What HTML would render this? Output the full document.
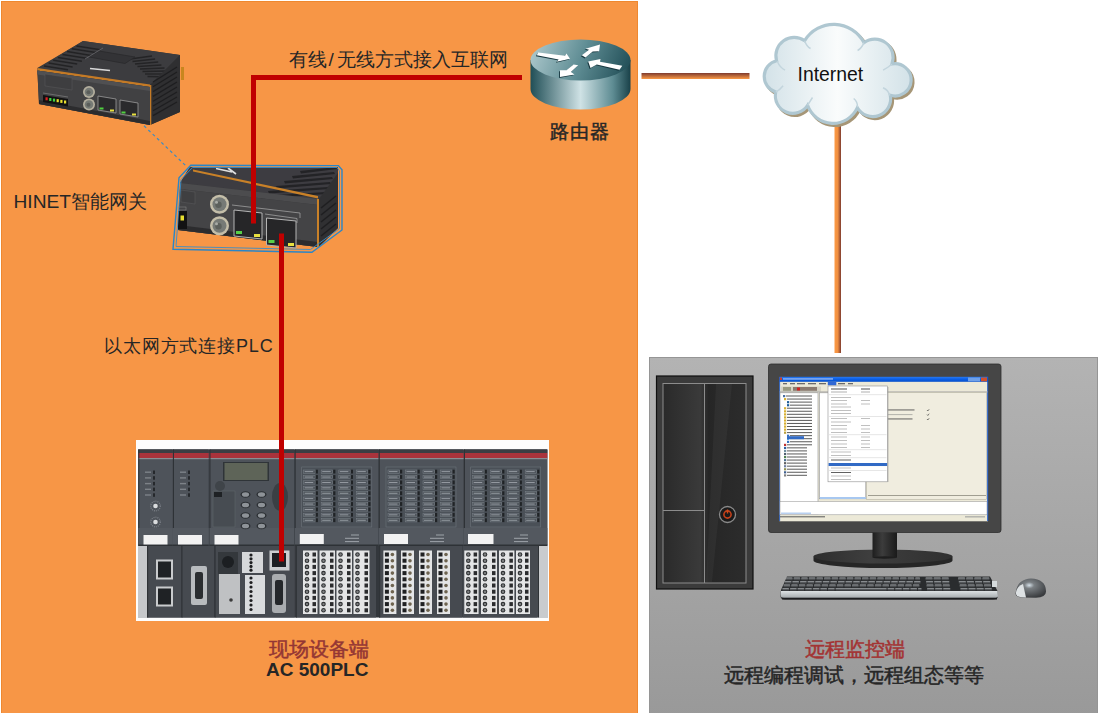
<!DOCTYPE html>
<html><head><meta charset="utf-8">
<style>
html,body{margin:0;padding:0;background:#fff;width:1100px;height:713px;overflow:hidden;}
body{position:relative;font-family:"Liberation Sans",sans-serif;}
.abs{position:absolute;}
#orange{left:1px;top:1px;width:635px;height:720px;background:#F79646;border:1px solid #EE8830;}
#gray{left:649px;top:357px;width:447px;height:360px;border:1px solid #959595;background:linear-gradient(#B3B3B3,#999999);}
.t{position:absolute;white-space:nowrap;line-height:1;}
svg{position:absolute;left:0;top:0;}
</style></head><body>
<div id="orange" class="abs"></div>
<div id="gray" class="abs"></div>
<svg width="1100" height="713" viewBox="0 0 1100 713">
<defs>
<linearGradient id="hl" x1="0" y1="0" x2="0" y2="1"><stop offset="0" stop-color="#7E3A2E"/><stop offset="1" stop-color="#FC9A45"/></linearGradient>
<linearGradient id="vl" x1="0" y1="0" x2="1" y2="0"><stop offset="0" stop-color="#FC9A45"/><stop offset="0.5" stop-color="#F08F40"/><stop offset="1" stop-color="#7E3A2E"/></linearGradient>
</defs>
<rect x="641.5" y="73" width="108" height="6" fill="url(#hl)"/>
<rect x="834.5" y="125" width="6.5" height="228" fill="url(#vl)"/>
<g id="router">
<defs>
<linearGradient id="rside" x1="530" y1="0" x2="631" y2="0" gradientUnits="userSpaceOnUse">
<stop offset="0" stop-color="#1E4D55"/><stop offset="0.5" stop-color="#CFE2E5"/><stop offset="0.82" stop-color="#5E8C93"/><stop offset="1" stop-color="#173F47"/></linearGradient>
<linearGradient id="rtop" x1="530" y1="40" x2="631" y2="80" gradientUnits="userSpaceOnUse">
<stop offset="0" stop-color="#B3CDD1"/><stop offset="0.5" stop-color="#5F8D94"/><stop offset="1" stop-color="#1A4750"/></linearGradient>
</defs>
<path d="M530.5 60 V89 A50 20.5 0 0 0 630.5 89 V60 Z" fill="url(#rside)"/>
<ellipse cx="580.5" cy="60" rx="50" ry="20.5" fill="url(#rtop)"/>
<g fill="#183840" transform="translate(-0.9,0.9)"><polygon points="538.2,52.5 565,55.7 566.4,53.5 570,58.7 556.8,61.8 558.6,59.4 536.8,55.3"/><polygon points="600,44.5 599.1,51.2 592.7,51.6 585.5,57.5 581.8,55.3 589,49.8 585.5,48.7"/><polygon points="588.2,61.5 600.5,59.1 600,61.8 622.3,65.7 619.5,69.8 596.8,64.4 590.5,68"/><polygon points="560,77.1 560,70.3 566.4,70.3 573.6,64.4 578.2,65.3 570.9,72.1 574.5,74.4"/></g>
<g fill="#FFFFFF"><polygon points="538.2,52.5 565,55.7 566.4,53.5 570,58.7 556.8,61.8 558.6,59.4 536.8,55.3"/><polygon points="600,44.5 599.1,51.2 592.7,51.6 585.5,57.5 581.8,55.3 589,49.8 585.5,48.7"/><polygon points="588.2,61.5 600.5,59.1 600,61.8 622.3,65.7 619.5,69.8 596.8,64.4 590.5,68"/><polygon points="560,77.1 560,70.3 566.4,70.3 573.6,64.4 578.2,65.3 570.9,72.1 574.5,74.4"/></g>
</g>

<g id="cloud" transform="translate(837.5,74) scale(0.98) translate(-837.5,-74)">
<defs>
<linearGradient id="cfill" x1="763" y1="0" x2="912" y2="0" gradientUnits="userSpaceOnUse">
<stop offset="0" stop-color="#D3E2E8"/><stop offset="0.5" stop-color="#FAFCFC"/><stop offset="1" stop-color="#D3E2E8"/></linearGradient>
</defs>
<path d="M775.3 60.4 A18.7 18.7 0 0 1 804 40 A34.8 34.8 0 0 1 864.5 42 A18.7 18.7 0 0 1 893 63.8 A16.5 16.5 0 1 1 891.4 95.8 A18.2 18.2 0 0 1 857.8 108.4 A27.4 27.4 0 0 1 807 106 A17.9 17.9 0 0 1 774.5 92.4 A16.6 16.6 0 0 1 775.3 60.4 Z" fill="#A69677" stroke="#A69677" stroke-width="3" transform="translate(2,2.2)"/>
<path d="M775.3 60.4 A18.7 18.7 0 0 1 804 40 A34.8 34.8 0 0 1 864.5 42 A18.7 18.7 0 0 1 893 63.8 A16.5 16.5 0 1 1 891.4 95.8 A18.2 18.2 0 0 1 857.8 108.4 A27.4 27.4 0 0 1 807 106 A17.9 17.9 0 0 1 774.5 92.4 A16.6 16.6 0 0 1 775.3 60.4 Z" fill="url(#cfill)" stroke="#AFC7D1" stroke-width="3.2"/>
<g fill="none" stroke="#C3D5DD" stroke-width="1.5">
<path d="M776 61 Q779 68 784 70"/><path d="M804 40 Q806 46 810 48"/><path d="M864.5 42 Q862 48 858 50"/><path d="M893 64 Q888 68 884 70"/>
<path d="M891 96 Q889 90 884 88"/><path d="M858 108 Q858 102 854 99"/><path d="M807 106 Q810 101 812 98"/><path d="M774.5 92.4 Q779 90 782 86"/>
</g>
</g>

<g id="plc">
<rect x="136" y="440" width="413" height="181" fill="#FDFDFD"/>
<rect x="138.3" y="449.5" width="409" height="168" fill="#33373C"/>
<rect x="138" y="545" width="10" height="73" fill="#C6C8CB"/>
<rect x="537" y="545" width="11" height="73" fill="#C9CBCE"/>
<rect x="138.3" y="449.5" width="34.5" height="96" fill="#4E535A"/>
<rect x="138.3" y="449.5" width="34.5" height="3.5" fill="#3A3E44"/>
<rect x="138.3" y="453" width="34.5" height="5" fill="#A9333C"/>
<rect x="138.3" y="458" width="34.5" height="1.2" fill="#8A8E94"/>
<rect x="138.3" y="449.5" width="1" height="96" fill="#2E3236"/>
<rect x="138.3" y="528" width="34.5" height="17.5" fill="#53585F"/>
<rect x="138.3" y="544.5" width="34.5" height="1.5" fill="#2E3236"/>
<rect x="173" y="449.5" width="35.7" height="96" fill="#4E535A"/>
<rect x="173" y="449.5" width="35.7" height="3.5" fill="#3A3E44"/>
<rect x="173" y="453" width="35.7" height="5" fill="#A9333C"/>
<rect x="173" y="458" width="35.7" height="1.2" fill="#8A8E94"/>
<rect x="173" y="449.5" width="1" height="96" fill="#2E3236"/>
<rect x="173" y="528" width="35.7" height="17.5" fill="#53585F"/>
<rect x="173" y="544.5" width="35.7" height="1.5" fill="#2E3236"/>
<rect x="209.5" y="449.5" width="84.7" height="96" fill="#4E535A"/>
<rect x="209.5" y="449.5" width="84.7" height="3.5" fill="#3A3E44"/>
<rect x="209.5" y="453" width="84.7" height="5" fill="#A9333C"/>
<rect x="209.5" y="458" width="84.7" height="1.2" fill="#8A8E94"/>
<rect x="209.5" y="449.5" width="1" height="96" fill="#2E3236"/>
<rect x="209.5" y="528" width="84.7" height="17.5" fill="#53585F"/>
<rect x="209.5" y="544.5" width="84.7" height="1.5" fill="#2E3236"/>
<rect x="294.7" y="449.5" width="83.8" height="96" fill="#4E535A"/>
<rect x="294.7" y="449.5" width="83.8" height="3.5" fill="#3A3E44"/>
<rect x="294.7" y="453" width="83.8" height="5" fill="#A9333C"/>
<rect x="294.7" y="458" width="83.8" height="1.2" fill="#8A8E94"/>
<rect x="294.7" y="449.5" width="1" height="96" fill="#2E3236"/>
<rect x="294.7" y="528" width="83.8" height="17.5" fill="#53585F"/>
<rect x="294.7" y="544.5" width="83.8" height="1.5" fill="#2E3236"/>
<rect x="378.8" y="449.5" width="84.8" height="96" fill="#4E535A"/>
<rect x="378.8" y="449.5" width="84.8" height="3.5" fill="#3A3E44"/>
<rect x="378.8" y="453" width="84.8" height="5" fill="#A9333C"/>
<rect x="378.8" y="458" width="84.8" height="1.2" fill="#8A8E94"/>
<rect x="378.8" y="449.5" width="1" height="96" fill="#2E3236"/>
<rect x="378.8" y="528" width="84.8" height="17.5" fill="#53585F"/>
<rect x="378.8" y="544.5" width="84.8" height="1.5" fill="#2E3236"/>
<rect x="464" y="449.5" width="83.3" height="96" fill="#4E535A"/>
<rect x="464" y="449.5" width="83.3" height="3.5" fill="#3A3E44"/>
<rect x="464" y="453" width="83.3" height="5" fill="#A9333C"/>
<rect x="464" y="458" width="83.3" height="1.2" fill="#8A8E94"/>
<rect x="464" y="449.5" width="1" height="96" fill="#2E3236"/>
<rect x="464" y="528" width="83.3" height="17.5" fill="#53585F"/>
<rect x="464" y="544.5" width="83.3" height="1.5" fill="#2E3236"/>
<rect x="143.5" y="535" width="24" height="9.5" fill="#F2F2F2"/>
<rect x="178" y="535" width="24" height="9.5" fill="#F2F2F2"/>
<rect x="214.5" y="535" width="24" height="9.5" fill="#F2F2F2"/>
<rect x="299.8" y="534" width="24" height="10" fill="#F2F2F2"/>
<rect x="384" y="534" width="24" height="10" fill="#F2F2F2"/>
<rect x="468" y="534" width="25.5" height="10" fill="#F2F2F2"/>
<rect x="145" y="471.5" width="6" height="1.4" fill="#7D8288"/>
<rect x="153" y="470.5" width="2" height="3.5" fill="#25282C"/>
<rect x="145" y="477.2" width="6" height="1.4" fill="#7D8288"/>
<rect x="153" y="476.2" width="2" height="3.5" fill="#25282C"/>
<rect x="145" y="482.9" width="6" height="1.4" fill="#7D8288"/>
<rect x="153" y="481.9" width="2" height="3.5" fill="#25282C"/>
<rect x="145" y="488.6" width="6" height="1.4" fill="#7D8288"/>
<rect x="153" y="487.6" width="2" height="3.5" fill="#25282C"/>
<rect x="145" y="494.3" width="6" height="1.4" fill="#7D8288"/>
<rect x="153" y="493.3" width="2" height="3.5" fill="#25282C"/>
<rect x="180" y="471.5" width="6" height="1.4" fill="#7D8288"/>
<rect x="188" y="470.5" width="2" height="3.5" fill="#25282C"/>
<rect x="180" y="477.2" width="6" height="1.4" fill="#7D8288"/>
<rect x="188" y="476.2" width="2" height="3.5" fill="#25282C"/>
<rect x="180" y="482.9" width="6" height="1.4" fill="#7D8288"/>
<rect x="188" y="481.9" width="2" height="3.5" fill="#25282C"/>
<rect x="180" y="488.6" width="6" height="1.4" fill="#7D8288"/>
<rect x="188" y="487.6" width="2" height="3.5" fill="#25282C"/>
<rect x="180" y="494.3" width="6" height="1.4" fill="#7D8288"/>
<rect x="188" y="493.3" width="2" height="3.5" fill="#25282C"/>
<circle cx="155.5" cy="506" r="4.8" fill="none" stroke="#7A7F86" stroke-width="1.3" stroke-dasharray="1 1"/>
<circle cx="155.5" cy="506" r="2.3" fill="#DADCDE"/>
<circle cx="155.5" cy="522" r="4.8" fill="none" stroke="#7A7F86" stroke-width="1.3" stroke-dasharray="1 1"/>
<circle cx="155.5" cy="522" r="2.3" fill="#DADCDE"/>
<rect x="223" y="462" width="46" height="19" fill="#2F3438"/>
<rect x="224.5" y="463" width="43" height="17" fill="#5E6458"/>
<ellipse cx="245.5" cy="494.5" rx="5" ry="3.3" fill="#2C3034"/>
<ellipse cx="245.5" cy="494.5" rx="3.6" ry="2.3" fill="#8E9398"/>
<ellipse cx="261.5" cy="494.5" rx="5" ry="3.3" fill="#2C3034"/>
<ellipse cx="261.5" cy="494.5" rx="3.6" ry="2.3" fill="#8E9398"/>
<ellipse cx="245.5" cy="505.0" rx="5" ry="3.3" fill="#2C3034"/>
<ellipse cx="245.5" cy="505.0" rx="3.6" ry="2.3" fill="#8E9398"/>
<ellipse cx="261.5" cy="505.0" rx="5" ry="3.3" fill="#2C3034"/>
<ellipse cx="261.5" cy="505.0" rx="3.6" ry="2.3" fill="#8E9398"/>
<ellipse cx="245.5" cy="515.5" rx="5" ry="3.3" fill="#2C3034"/>
<ellipse cx="245.5" cy="515.5" rx="3.6" ry="2.3" fill="#8E9398"/>
<ellipse cx="261.5" cy="515.5" rx="5" ry="3.3" fill="#2C3034"/>
<ellipse cx="261.5" cy="515.5" rx="3.6" ry="2.3" fill="#8E9398"/>
<ellipse cx="245.5" cy="526.0" rx="5" ry="3.3" fill="#2C3034"/>
<ellipse cx="245.5" cy="526.0" rx="3.6" ry="2.3" fill="#8E9398"/>
<ellipse cx="261.5" cy="526.0" rx="5" ry="3.3" fill="#2C3034"/>
<ellipse cx="261.5" cy="526.0" rx="3.6" ry="2.3" fill="#8E9398"/>
<rect x="213" y="491" width="22" height="36" fill="#474C52" stroke="#5F646A" stroke-width="0.6"/>
<rect x="214" y="492" width="8" height="5" fill="#1E2124"/>
<ellipse cx="280" cy="497" rx="8" ry="14" fill="#3A3F44"/>
<circle cx="220" cy="486" r="5" fill="#3F4449"/>
<rect x="301.7" y="467" width="70.1" height="60" fill="#4A5057" stroke="#6C737A" stroke-width="0.6"/>
<rect x="303.7" y="470.0" width="11.5" height="3.3" fill="#4F555C" stroke="#7C838A" stroke-width="0.5"/>
<rect x="315.7" y="469.7" width="2.2" height="3.8" fill="#202326"/>
<rect x="303.7" y="475.4" width="11.5" height="3.3" fill="#4F555C" stroke="#7C838A" stroke-width="0.5"/>
<rect x="315.7" y="475.1" width="2.2" height="3.8" fill="#202326"/>
<rect x="303.7" y="480.8" width="11.5" height="3.3" fill="#4F555C" stroke="#7C838A" stroke-width="0.5"/>
<rect x="315.7" y="480.5" width="2.2" height="3.8" fill="#202326"/>
<rect x="303.7" y="486.2" width="11.5" height="3.3" fill="#4F555C" stroke="#7C838A" stroke-width="0.5"/>
<rect x="315.7" y="485.9" width="2.2" height="3.8" fill="#202326"/>
<rect x="303.7" y="491.6" width="11.5" height="3.3" fill="#4F555C" stroke="#7C838A" stroke-width="0.5"/>
<rect x="315.7" y="491.3" width="2.2" height="3.8" fill="#202326"/>
<rect x="303.7" y="497.0" width="11.5" height="3.3" fill="#4F555C" stroke="#7C838A" stroke-width="0.5"/>
<rect x="315.7" y="496.7" width="2.2" height="3.8" fill="#202326"/>
<rect x="303.7" y="502.4" width="11.5" height="3.3" fill="#4F555C" stroke="#7C838A" stroke-width="0.5"/>
<rect x="315.7" y="502.1" width="2.2" height="3.8" fill="#202326"/>
<rect x="303.7" y="507.8" width="11.5" height="3.3" fill="#4F555C" stroke="#7C838A" stroke-width="0.5"/>
<rect x="315.7" y="507.5" width="2.2" height="3.8" fill="#202326"/>
<rect x="303.7" y="513.2" width="11.5" height="3.3" fill="#4F555C" stroke="#7C838A" stroke-width="0.5"/>
<rect x="315.7" y="512.9" width="2.2" height="3.8" fill="#202326"/>
<rect x="303.7" y="518.6" width="11.5" height="3.3" fill="#4F555C" stroke="#7C838A" stroke-width="0.5"/>
<rect x="315.7" y="518.3" width="2.2" height="3.8" fill="#202326"/>
<rect x="321.2" y="470.0" width="11.5" height="3.3" fill="#4F555C" stroke="#7C838A" stroke-width="0.5"/>
<rect x="333.2" y="469.7" width="2.2" height="3.8" fill="#202326"/>
<rect x="321.2" y="475.4" width="11.5" height="3.3" fill="#4F555C" stroke="#7C838A" stroke-width="0.5"/>
<rect x="333.2" y="475.1" width="2.2" height="3.8" fill="#202326"/>
<rect x="321.2" y="480.8" width="11.5" height="3.3" fill="#4F555C" stroke="#7C838A" stroke-width="0.5"/>
<rect x="333.2" y="480.5" width="2.2" height="3.8" fill="#202326"/>
<rect x="321.2" y="486.2" width="11.5" height="3.3" fill="#4F555C" stroke="#7C838A" stroke-width="0.5"/>
<rect x="333.2" y="485.9" width="2.2" height="3.8" fill="#202326"/>
<rect x="321.2" y="491.6" width="11.5" height="3.3" fill="#4F555C" stroke="#7C838A" stroke-width="0.5"/>
<rect x="333.2" y="491.3" width="2.2" height="3.8" fill="#202326"/>
<rect x="321.2" y="497.0" width="11.5" height="3.3" fill="#4F555C" stroke="#7C838A" stroke-width="0.5"/>
<rect x="333.2" y="496.7" width="2.2" height="3.8" fill="#202326"/>
<rect x="321.2" y="502.4" width="11.5" height="3.3" fill="#4F555C" stroke="#7C838A" stroke-width="0.5"/>
<rect x="333.2" y="502.1" width="2.2" height="3.8" fill="#202326"/>
<rect x="321.2" y="507.8" width="11.5" height="3.3" fill="#4F555C" stroke="#7C838A" stroke-width="0.5"/>
<rect x="333.2" y="507.5" width="2.2" height="3.8" fill="#202326"/>
<rect x="321.2" y="513.2" width="11.5" height="3.3" fill="#4F555C" stroke="#7C838A" stroke-width="0.5"/>
<rect x="333.2" y="512.9" width="2.2" height="3.8" fill="#202326"/>
<rect x="321.2" y="518.6" width="11.5" height="3.3" fill="#4F555C" stroke="#7C838A" stroke-width="0.5"/>
<rect x="333.2" y="518.3" width="2.2" height="3.8" fill="#202326"/>
<rect x="338.8" y="470.0" width="11.5" height="3.3" fill="#4F555C" stroke="#7C838A" stroke-width="0.5"/>
<rect x="350.8" y="469.7" width="2.2" height="3.8" fill="#202326"/>
<rect x="338.8" y="475.4" width="11.5" height="3.3" fill="#4F555C" stroke="#7C838A" stroke-width="0.5"/>
<rect x="350.8" y="475.1" width="2.2" height="3.8" fill="#202326"/>
<rect x="338.8" y="480.8" width="11.5" height="3.3" fill="#4F555C" stroke="#7C838A" stroke-width="0.5"/>
<rect x="350.8" y="480.5" width="2.2" height="3.8" fill="#202326"/>
<rect x="338.8" y="486.2" width="11.5" height="3.3" fill="#4F555C" stroke="#7C838A" stroke-width="0.5"/>
<rect x="350.8" y="485.9" width="2.2" height="3.8" fill="#202326"/>
<rect x="338.8" y="491.6" width="11.5" height="3.3" fill="#4F555C" stroke="#7C838A" stroke-width="0.5"/>
<rect x="350.8" y="491.3" width="2.2" height="3.8" fill="#202326"/>
<rect x="338.8" y="497.0" width="11.5" height="3.3" fill="#4F555C" stroke="#7C838A" stroke-width="0.5"/>
<rect x="350.8" y="496.7" width="2.2" height="3.8" fill="#202326"/>
<rect x="338.8" y="502.4" width="11.5" height="3.3" fill="#4F555C" stroke="#7C838A" stroke-width="0.5"/>
<rect x="350.8" y="502.1" width="2.2" height="3.8" fill="#202326"/>
<rect x="338.8" y="507.8" width="11.5" height="3.3" fill="#4F555C" stroke="#7C838A" stroke-width="0.5"/>
<rect x="350.8" y="507.5" width="2.2" height="3.8" fill="#202326"/>
<rect x="338.8" y="513.2" width="11.5" height="3.3" fill="#4F555C" stroke="#7C838A" stroke-width="0.5"/>
<rect x="350.8" y="512.9" width="2.2" height="3.8" fill="#202326"/>
<rect x="338.8" y="518.6" width="11.5" height="3.3" fill="#4F555C" stroke="#7C838A" stroke-width="0.5"/>
<rect x="350.8" y="518.3" width="2.2" height="3.8" fill="#202326"/>
<rect x="356.3" y="470.0" width="11.5" height="3.3" fill="#4F555C" stroke="#7C838A" stroke-width="0.5"/>
<rect x="368.3" y="469.7" width="2.2" height="3.8" fill="#202326"/>
<rect x="356.3" y="475.4" width="11.5" height="3.3" fill="#4F555C" stroke="#7C838A" stroke-width="0.5"/>
<rect x="368.3" y="475.1" width="2.2" height="3.8" fill="#202326"/>
<rect x="356.3" y="480.8" width="11.5" height="3.3" fill="#4F555C" stroke="#7C838A" stroke-width="0.5"/>
<rect x="368.3" y="480.5" width="2.2" height="3.8" fill="#202326"/>
<rect x="356.3" y="486.2" width="11.5" height="3.3" fill="#4F555C" stroke="#7C838A" stroke-width="0.5"/>
<rect x="368.3" y="485.9" width="2.2" height="3.8" fill="#202326"/>
<rect x="356.3" y="491.6" width="11.5" height="3.3" fill="#4F555C" stroke="#7C838A" stroke-width="0.5"/>
<rect x="368.3" y="491.3" width="2.2" height="3.8" fill="#202326"/>
<rect x="356.3" y="497.0" width="11.5" height="3.3" fill="#4F555C" stroke="#7C838A" stroke-width="0.5"/>
<rect x="368.3" y="496.7" width="2.2" height="3.8" fill="#202326"/>
<rect x="356.3" y="502.4" width="11.5" height="3.3" fill="#4F555C" stroke="#7C838A" stroke-width="0.5"/>
<rect x="368.3" y="502.1" width="2.2" height="3.8" fill="#202326"/>
<rect x="356.3" y="507.8" width="11.5" height="3.3" fill="#4F555C" stroke="#7C838A" stroke-width="0.5"/>
<rect x="368.3" y="507.5" width="2.2" height="3.8" fill="#202326"/>
<rect x="356.3" y="513.2" width="11.5" height="3.3" fill="#4F555C" stroke="#7C838A" stroke-width="0.5"/>
<rect x="368.3" y="512.9" width="2.2" height="3.8" fill="#202326"/>
<rect x="356.3" y="518.6" width="11.5" height="3.3" fill="#4F555C" stroke="#7C838A" stroke-width="0.5"/>
<rect x="368.3" y="518.3" width="2.2" height="3.8" fill="#202326"/>
<rect x="386" y="467" width="70.0" height="60" fill="#4A5057" stroke="#6C737A" stroke-width="0.6"/>
<rect x="388.0" y="470.0" width="11.5" height="3.3" fill="#4F555C" stroke="#7C838A" stroke-width="0.5"/>
<rect x="400.0" y="469.7" width="2.2" height="3.8" fill="#202326"/>
<rect x="388.0" y="475.4" width="11.5" height="3.3" fill="#4F555C" stroke="#7C838A" stroke-width="0.5"/>
<rect x="400.0" y="475.1" width="2.2" height="3.8" fill="#202326"/>
<rect x="388.0" y="480.8" width="11.5" height="3.3" fill="#4F555C" stroke="#7C838A" stroke-width="0.5"/>
<rect x="400.0" y="480.5" width="2.2" height="3.8" fill="#202326"/>
<rect x="388.0" y="486.2" width="11.5" height="3.3" fill="#4F555C" stroke="#7C838A" stroke-width="0.5"/>
<rect x="400.0" y="485.9" width="2.2" height="3.8" fill="#202326"/>
<rect x="388.0" y="491.6" width="11.5" height="3.3" fill="#4F555C" stroke="#7C838A" stroke-width="0.5"/>
<rect x="400.0" y="491.3" width="2.2" height="3.8" fill="#202326"/>
<rect x="388.0" y="497.0" width="11.5" height="3.3" fill="#4F555C" stroke="#7C838A" stroke-width="0.5"/>
<rect x="400.0" y="496.7" width="2.2" height="3.8" fill="#202326"/>
<rect x="388.0" y="502.4" width="11.5" height="3.3" fill="#4F555C" stroke="#7C838A" stroke-width="0.5"/>
<rect x="400.0" y="502.1" width="2.2" height="3.8" fill="#202326"/>
<rect x="388.0" y="507.8" width="11.5" height="3.3" fill="#4F555C" stroke="#7C838A" stroke-width="0.5"/>
<rect x="400.0" y="507.5" width="2.2" height="3.8" fill="#202326"/>
<rect x="388.0" y="513.2" width="11.5" height="3.3" fill="#4F555C" stroke="#7C838A" stroke-width="0.5"/>
<rect x="400.0" y="512.9" width="2.2" height="3.8" fill="#202326"/>
<rect x="388.0" y="518.6" width="11.5" height="3.3" fill="#4F555C" stroke="#7C838A" stroke-width="0.5"/>
<rect x="400.0" y="518.3" width="2.2" height="3.8" fill="#202326"/>
<rect x="405.5" y="470.0" width="11.5" height="3.3" fill="#4F555C" stroke="#7C838A" stroke-width="0.5"/>
<rect x="417.5" y="469.7" width="2.2" height="3.8" fill="#202326"/>
<rect x="405.5" y="475.4" width="11.5" height="3.3" fill="#4F555C" stroke="#7C838A" stroke-width="0.5"/>
<rect x="417.5" y="475.1" width="2.2" height="3.8" fill="#202326"/>
<rect x="405.5" y="480.8" width="11.5" height="3.3" fill="#4F555C" stroke="#7C838A" stroke-width="0.5"/>
<rect x="417.5" y="480.5" width="2.2" height="3.8" fill="#202326"/>
<rect x="405.5" y="486.2" width="11.5" height="3.3" fill="#4F555C" stroke="#7C838A" stroke-width="0.5"/>
<rect x="417.5" y="485.9" width="2.2" height="3.8" fill="#202326"/>
<rect x="405.5" y="491.6" width="11.5" height="3.3" fill="#4F555C" stroke="#7C838A" stroke-width="0.5"/>
<rect x="417.5" y="491.3" width="2.2" height="3.8" fill="#202326"/>
<rect x="405.5" y="497.0" width="11.5" height="3.3" fill="#4F555C" stroke="#7C838A" stroke-width="0.5"/>
<rect x="417.5" y="496.7" width="2.2" height="3.8" fill="#202326"/>
<rect x="405.5" y="502.4" width="11.5" height="3.3" fill="#4F555C" stroke="#7C838A" stroke-width="0.5"/>
<rect x="417.5" y="502.1" width="2.2" height="3.8" fill="#202326"/>
<rect x="405.5" y="507.8" width="11.5" height="3.3" fill="#4F555C" stroke="#7C838A" stroke-width="0.5"/>
<rect x="417.5" y="507.5" width="2.2" height="3.8" fill="#202326"/>
<rect x="405.5" y="513.2" width="11.5" height="3.3" fill="#4F555C" stroke="#7C838A" stroke-width="0.5"/>
<rect x="417.5" y="512.9" width="2.2" height="3.8" fill="#202326"/>
<rect x="405.5" y="518.6" width="11.5" height="3.3" fill="#4F555C" stroke="#7C838A" stroke-width="0.5"/>
<rect x="417.5" y="518.3" width="2.2" height="3.8" fill="#202326"/>
<rect x="423.0" y="470.0" width="11.5" height="3.3" fill="#4F555C" stroke="#7C838A" stroke-width="0.5"/>
<rect x="435.0" y="469.7" width="2.2" height="3.8" fill="#202326"/>
<rect x="423.0" y="475.4" width="11.5" height="3.3" fill="#4F555C" stroke="#7C838A" stroke-width="0.5"/>
<rect x="435.0" y="475.1" width="2.2" height="3.8" fill="#202326"/>
<rect x="423.0" y="480.8" width="11.5" height="3.3" fill="#4F555C" stroke="#7C838A" stroke-width="0.5"/>
<rect x="435.0" y="480.5" width="2.2" height="3.8" fill="#202326"/>
<rect x="423.0" y="486.2" width="11.5" height="3.3" fill="#4F555C" stroke="#7C838A" stroke-width="0.5"/>
<rect x="435.0" y="485.9" width="2.2" height="3.8" fill="#202326"/>
<rect x="423.0" y="491.6" width="11.5" height="3.3" fill="#4F555C" stroke="#7C838A" stroke-width="0.5"/>
<rect x="435.0" y="491.3" width="2.2" height="3.8" fill="#202326"/>
<rect x="423.0" y="497.0" width="11.5" height="3.3" fill="#4F555C" stroke="#7C838A" stroke-width="0.5"/>
<rect x="435.0" y="496.7" width="2.2" height="3.8" fill="#202326"/>
<rect x="423.0" y="502.4" width="11.5" height="3.3" fill="#4F555C" stroke="#7C838A" stroke-width="0.5"/>
<rect x="435.0" y="502.1" width="2.2" height="3.8" fill="#202326"/>
<rect x="423.0" y="507.8" width="11.5" height="3.3" fill="#4F555C" stroke="#7C838A" stroke-width="0.5"/>
<rect x="435.0" y="507.5" width="2.2" height="3.8" fill="#202326"/>
<rect x="423.0" y="513.2" width="11.5" height="3.3" fill="#4F555C" stroke="#7C838A" stroke-width="0.5"/>
<rect x="435.0" y="512.9" width="2.2" height="3.8" fill="#202326"/>
<rect x="423.0" y="518.6" width="11.5" height="3.3" fill="#4F555C" stroke="#7C838A" stroke-width="0.5"/>
<rect x="435.0" y="518.3" width="2.2" height="3.8" fill="#202326"/>
<rect x="440.5" y="470.0" width="11.5" height="3.3" fill="#4F555C" stroke="#7C838A" stroke-width="0.5"/>
<rect x="452.5" y="469.7" width="2.2" height="3.8" fill="#202326"/>
<rect x="440.5" y="475.4" width="11.5" height="3.3" fill="#4F555C" stroke="#7C838A" stroke-width="0.5"/>
<rect x="452.5" y="475.1" width="2.2" height="3.8" fill="#202326"/>
<rect x="440.5" y="480.8" width="11.5" height="3.3" fill="#4F555C" stroke="#7C838A" stroke-width="0.5"/>
<rect x="452.5" y="480.5" width="2.2" height="3.8" fill="#202326"/>
<rect x="440.5" y="486.2" width="11.5" height="3.3" fill="#4F555C" stroke="#7C838A" stroke-width="0.5"/>
<rect x="452.5" y="485.9" width="2.2" height="3.8" fill="#202326"/>
<rect x="440.5" y="491.6" width="11.5" height="3.3" fill="#4F555C" stroke="#7C838A" stroke-width="0.5"/>
<rect x="452.5" y="491.3" width="2.2" height="3.8" fill="#202326"/>
<rect x="440.5" y="497.0" width="11.5" height="3.3" fill="#4F555C" stroke="#7C838A" stroke-width="0.5"/>
<rect x="452.5" y="496.7" width="2.2" height="3.8" fill="#202326"/>
<rect x="440.5" y="502.4" width="11.5" height="3.3" fill="#4F555C" stroke="#7C838A" stroke-width="0.5"/>
<rect x="452.5" y="502.1" width="2.2" height="3.8" fill="#202326"/>
<rect x="440.5" y="507.8" width="11.5" height="3.3" fill="#4F555C" stroke="#7C838A" stroke-width="0.5"/>
<rect x="452.5" y="507.5" width="2.2" height="3.8" fill="#202326"/>
<rect x="440.5" y="513.2" width="11.5" height="3.3" fill="#4F555C" stroke="#7C838A" stroke-width="0.5"/>
<rect x="452.5" y="512.9" width="2.2" height="3.8" fill="#202326"/>
<rect x="440.5" y="518.6" width="11.5" height="3.3" fill="#4F555C" stroke="#7C838A" stroke-width="0.5"/>
<rect x="452.5" y="518.3" width="2.2" height="3.8" fill="#202326"/>
<rect x="470.7" y="467" width="70.0" height="60" fill="#4A5057" stroke="#6C737A" stroke-width="0.6"/>
<rect x="472.7" y="470.0" width="11.5" height="3.3" fill="#4F555C" stroke="#7C838A" stroke-width="0.5"/>
<rect x="484.7" y="469.7" width="2.2" height="3.8" fill="#202326"/>
<rect x="472.7" y="475.4" width="11.5" height="3.3" fill="#4F555C" stroke="#7C838A" stroke-width="0.5"/>
<rect x="484.7" y="475.1" width="2.2" height="3.8" fill="#202326"/>
<rect x="472.7" y="480.8" width="11.5" height="3.3" fill="#4F555C" stroke="#7C838A" stroke-width="0.5"/>
<rect x="484.7" y="480.5" width="2.2" height="3.8" fill="#202326"/>
<rect x="472.7" y="486.2" width="11.5" height="3.3" fill="#4F555C" stroke="#7C838A" stroke-width="0.5"/>
<rect x="484.7" y="485.9" width="2.2" height="3.8" fill="#202326"/>
<rect x="472.7" y="491.6" width="11.5" height="3.3" fill="#4F555C" stroke="#7C838A" stroke-width="0.5"/>
<rect x="484.7" y="491.3" width="2.2" height="3.8" fill="#202326"/>
<rect x="472.7" y="497.0" width="11.5" height="3.3" fill="#4F555C" stroke="#7C838A" stroke-width="0.5"/>
<rect x="484.7" y="496.7" width="2.2" height="3.8" fill="#202326"/>
<rect x="472.7" y="502.4" width="11.5" height="3.3" fill="#4F555C" stroke="#7C838A" stroke-width="0.5"/>
<rect x="484.7" y="502.1" width="2.2" height="3.8" fill="#202326"/>
<rect x="472.7" y="507.8" width="11.5" height="3.3" fill="#4F555C" stroke="#7C838A" stroke-width="0.5"/>
<rect x="484.7" y="507.5" width="2.2" height="3.8" fill="#202326"/>
<rect x="472.7" y="513.2" width="11.5" height="3.3" fill="#4F555C" stroke="#7C838A" stroke-width="0.5"/>
<rect x="484.7" y="512.9" width="2.2" height="3.8" fill="#202326"/>
<rect x="472.7" y="518.6" width="11.5" height="3.3" fill="#4F555C" stroke="#7C838A" stroke-width="0.5"/>
<rect x="484.7" y="518.3" width="2.2" height="3.8" fill="#202326"/>
<rect x="490.2" y="470.0" width="11.5" height="3.3" fill="#4F555C" stroke="#7C838A" stroke-width="0.5"/>
<rect x="502.2" y="469.7" width="2.2" height="3.8" fill="#202326"/>
<rect x="490.2" y="475.4" width="11.5" height="3.3" fill="#4F555C" stroke="#7C838A" stroke-width="0.5"/>
<rect x="502.2" y="475.1" width="2.2" height="3.8" fill="#202326"/>
<rect x="490.2" y="480.8" width="11.5" height="3.3" fill="#4F555C" stroke="#7C838A" stroke-width="0.5"/>
<rect x="502.2" y="480.5" width="2.2" height="3.8" fill="#202326"/>
<rect x="490.2" y="486.2" width="11.5" height="3.3" fill="#4F555C" stroke="#7C838A" stroke-width="0.5"/>
<rect x="502.2" y="485.9" width="2.2" height="3.8" fill="#202326"/>
<rect x="490.2" y="491.6" width="11.5" height="3.3" fill="#4F555C" stroke="#7C838A" stroke-width="0.5"/>
<rect x="502.2" y="491.3" width="2.2" height="3.8" fill="#202326"/>
<rect x="490.2" y="497.0" width="11.5" height="3.3" fill="#4F555C" stroke="#7C838A" stroke-width="0.5"/>
<rect x="502.2" y="496.7" width="2.2" height="3.8" fill="#202326"/>
<rect x="490.2" y="502.4" width="11.5" height="3.3" fill="#4F555C" stroke="#7C838A" stroke-width="0.5"/>
<rect x="502.2" y="502.1" width="2.2" height="3.8" fill="#202326"/>
<rect x="490.2" y="507.8" width="11.5" height="3.3" fill="#4F555C" stroke="#7C838A" stroke-width="0.5"/>
<rect x="502.2" y="507.5" width="2.2" height="3.8" fill="#202326"/>
<rect x="490.2" y="513.2" width="11.5" height="3.3" fill="#4F555C" stroke="#7C838A" stroke-width="0.5"/>
<rect x="502.2" y="512.9" width="2.2" height="3.8" fill="#202326"/>
<rect x="490.2" y="518.6" width="11.5" height="3.3" fill="#4F555C" stroke="#7C838A" stroke-width="0.5"/>
<rect x="502.2" y="518.3" width="2.2" height="3.8" fill="#202326"/>
<rect x="507.7" y="470.0" width="11.5" height="3.3" fill="#4F555C" stroke="#7C838A" stroke-width="0.5"/>
<rect x="519.7" y="469.7" width="2.2" height="3.8" fill="#202326"/>
<rect x="507.7" y="475.4" width="11.5" height="3.3" fill="#4F555C" stroke="#7C838A" stroke-width="0.5"/>
<rect x="519.7" y="475.1" width="2.2" height="3.8" fill="#202326"/>
<rect x="507.7" y="480.8" width="11.5" height="3.3" fill="#4F555C" stroke="#7C838A" stroke-width="0.5"/>
<rect x="519.7" y="480.5" width="2.2" height="3.8" fill="#202326"/>
<rect x="507.7" y="486.2" width="11.5" height="3.3" fill="#4F555C" stroke="#7C838A" stroke-width="0.5"/>
<rect x="519.7" y="485.9" width="2.2" height="3.8" fill="#202326"/>
<rect x="507.7" y="491.6" width="11.5" height="3.3" fill="#4F555C" stroke="#7C838A" stroke-width="0.5"/>
<rect x="519.7" y="491.3" width="2.2" height="3.8" fill="#202326"/>
<rect x="507.7" y="497.0" width="11.5" height="3.3" fill="#4F555C" stroke="#7C838A" stroke-width="0.5"/>
<rect x="519.7" y="496.7" width="2.2" height="3.8" fill="#202326"/>
<rect x="507.7" y="502.4" width="11.5" height="3.3" fill="#4F555C" stroke="#7C838A" stroke-width="0.5"/>
<rect x="519.7" y="502.1" width="2.2" height="3.8" fill="#202326"/>
<rect x="507.7" y="507.8" width="11.5" height="3.3" fill="#4F555C" stroke="#7C838A" stroke-width="0.5"/>
<rect x="519.7" y="507.5" width="2.2" height="3.8" fill="#202326"/>
<rect x="507.7" y="513.2" width="11.5" height="3.3" fill="#4F555C" stroke="#7C838A" stroke-width="0.5"/>
<rect x="519.7" y="512.9" width="2.2" height="3.8" fill="#202326"/>
<rect x="507.7" y="518.6" width="11.5" height="3.3" fill="#4F555C" stroke="#7C838A" stroke-width="0.5"/>
<rect x="519.7" y="518.3" width="2.2" height="3.8" fill="#202326"/>
<rect x="525.2" y="470.0" width="11.5" height="3.3" fill="#4F555C" stroke="#7C838A" stroke-width="0.5"/>
<rect x="537.2" y="469.7" width="2.2" height="3.8" fill="#202326"/>
<rect x="525.2" y="475.4" width="11.5" height="3.3" fill="#4F555C" stroke="#7C838A" stroke-width="0.5"/>
<rect x="537.2" y="475.1" width="2.2" height="3.8" fill="#202326"/>
<rect x="525.2" y="480.8" width="11.5" height="3.3" fill="#4F555C" stroke="#7C838A" stroke-width="0.5"/>
<rect x="537.2" y="480.5" width="2.2" height="3.8" fill="#202326"/>
<rect x="525.2" y="486.2" width="11.5" height="3.3" fill="#4F555C" stroke="#7C838A" stroke-width="0.5"/>
<rect x="537.2" y="485.9" width="2.2" height="3.8" fill="#202326"/>
<rect x="525.2" y="491.6" width="11.5" height="3.3" fill="#4F555C" stroke="#7C838A" stroke-width="0.5"/>
<rect x="537.2" y="491.3" width="2.2" height="3.8" fill="#202326"/>
<rect x="525.2" y="497.0" width="11.5" height="3.3" fill="#4F555C" stroke="#7C838A" stroke-width="0.5"/>
<rect x="537.2" y="496.7" width="2.2" height="3.8" fill="#202326"/>
<rect x="525.2" y="502.4" width="11.5" height="3.3" fill="#4F555C" stroke="#7C838A" stroke-width="0.5"/>
<rect x="537.2" y="502.1" width="2.2" height="3.8" fill="#202326"/>
<rect x="525.2" y="507.8" width="11.5" height="3.3" fill="#4F555C" stroke="#7C838A" stroke-width="0.5"/>
<rect x="537.2" y="507.5" width="2.2" height="3.8" fill="#202326"/>
<rect x="525.2" y="513.2" width="11.5" height="3.3" fill="#4F555C" stroke="#7C838A" stroke-width="0.5"/>
<rect x="537.2" y="512.9" width="2.2" height="3.8" fill="#202326"/>
<rect x="525.2" y="518.6" width="11.5" height="3.3" fill="#4F555C" stroke="#7C838A" stroke-width="0.5"/>
<rect x="537.2" y="518.3" width="2.2" height="3.8" fill="#202326"/>
<rect x="147" y="546" width="34.0" height="71.5" fill="#464A50"/>
<rect x="147" y="546" width="1.2" height="71.5" fill="#2F3337"/>
<rect x="181.3" y="546" width="32.7" height="71.5" fill="#464A50"/>
<rect x="181.3" y="546" width="1.2" height="71.5" fill="#2F3337"/>
<rect x="214.4" y="546" width="80.4" height="71.5" fill="#464A50"/>
<rect x="214.4" y="546" width="1.2" height="71.5" fill="#2F3337"/>
<rect x="295.7" y="546" width="80.3" height="71.5" fill="#464A50"/>
<rect x="295.7" y="546" width="1.2" height="71.5" fill="#2F3337"/>
<rect x="379" y="546" width="83.5" height="71.5" fill="#464A50"/>
<rect x="379" y="546" width="1.2" height="71.5" fill="#2F3337"/>
<rect x="463" y="546" width="75" height="71.5" fill="#464A50"/>
<rect x="538" y="546" width="1" height="71.5" fill="#2F3337"/>
<rect x="156" y="559.5" width="17" height="20" fill="#C9CBCD"/>
<rect x="158" y="561.5" width="13" height="16" fill="#1F2225"/>
<rect x="156" y="586.5" width="17" height="20" fill="#C9CBCD"/>
<rect x="158" y="588.5" width="13" height="16" fill="#1F2225"/>
<rect x="191" y="566" width="16" height="39" rx="2" fill="#B8BBBE"/>
<rect x="195" y="572" width="8" height="27" rx="2" fill="#2A2D30"/>
<rect x="218" y="552" width="20" height="22" fill="#34383C"/>
<circle cx="228" cy="562" r="6" fill="#1C1F22"/>
<rect x="219" y="574" width="21" height="40" fill="#BFC1C3"/>
<circle cx="231" cy="600" r="1.8" fill="#3A3A3A"/>
<rect x="242" y="552" width="21" height="21" fill="#D6D8DA"/>
<rect x="245" y="575" width="20" height="39" fill="#D9DBDD"/>
<circle cx="251" cy="555.0" r="1.6" fill="#1E1F21"/>
<circle cx="251" cy="558.8" r="1.6" fill="#1E1F21"/>
<circle cx="251" cy="562.6" r="1.6" fill="#1E1F21"/>
<circle cx="251" cy="566.4" r="1.6" fill="#1E1F21"/>
<circle cx="251" cy="570.2" r="1.6" fill="#1E1F21"/>
<circle cx="251" cy="578.0" r="1.6" fill="#1E1F21"/>
<circle cx="251" cy="582.5" r="1.6" fill="#1E1F21"/>
<circle cx="251" cy="587.0" r="1.6" fill="#1E1F21"/>
<circle cx="251" cy="591.5" r="1.6" fill="#1E1F21"/>
<circle cx="251" cy="596.0" r="1.6" fill="#1E1F21"/>
<circle cx="251" cy="600.5" r="1.6" fill="#1E1F21"/>
<circle cx="251" cy="605.0" r="1.6" fill="#1E1F21"/>
<circle cx="251" cy="609.5" r="1.6" fill="#1E1F21"/>
<rect x="269.5" y="550.5" width="20" height="20" fill="#CCCED0"/>
<rect x="272" y="553" width="14" height="14" fill="#1D2023"/>
<rect x="272" y="574" width="14" height="39" rx="3" fill="#A9ACAF"/>
<rect x="275" y="580" width="8" height="25" rx="2" fill="#24272A"/>
<rect x="303" y="550.5" width="14.5" height="63.5" fill="#E4E5E6"/>
<circle cx="307.0" cy="554.5" r="2.3" fill="#2F3133"/><circle cx="307.0" cy="554.5" r="1.2" fill="#7E8082"/>
<rect x="312.5" y="552.5" width="3.5" height="4" fill="#2A2B2D"/>
<circle cx="307.0" cy="560.7" r="2.3" fill="#2F3133"/><circle cx="307.0" cy="560.7" r="1.2" fill="#7E8082"/>
<rect x="312.5" y="558.7" width="3.5" height="4" fill="#2A2B2D"/>
<circle cx="307.0" cy="566.9" r="2.3" fill="#2F3133"/><circle cx="307.0" cy="566.9" r="1.2" fill="#7E8082"/>
<rect x="312.5" y="564.9" width="3.5" height="4" fill="#2A2B2D"/>
<circle cx="307.0" cy="573.1" r="2.3" fill="#2F3133"/><circle cx="307.0" cy="573.1" r="1.2" fill="#7E8082"/>
<rect x="312.5" y="571.1" width="3.5" height="4" fill="#2A2B2D"/>
<circle cx="307.0" cy="579.3" r="2.3" fill="#2F3133"/><circle cx="307.0" cy="579.3" r="1.2" fill="#7E8082"/>
<rect x="312.5" y="577.3" width="3.5" height="4" fill="#2A2B2D"/>
<circle cx="307.0" cy="585.5" r="2.3" fill="#2F3133"/><circle cx="307.0" cy="585.5" r="1.2" fill="#7E8082"/>
<rect x="312.5" y="583.5" width="3.5" height="4" fill="#2A2B2D"/>
<circle cx="307.0" cy="591.7" r="2.3" fill="#2F3133"/><circle cx="307.0" cy="591.7" r="1.2" fill="#7E8082"/>
<rect x="312.5" y="589.7" width="3.5" height="4" fill="#2A2B2D"/>
<circle cx="307.0" cy="597.9" r="2.3" fill="#2F3133"/><circle cx="307.0" cy="597.9" r="1.2" fill="#7E8082"/>
<rect x="312.5" y="595.9" width="3.5" height="4" fill="#2A2B2D"/>
<circle cx="307.0" cy="604.1" r="2.3" fill="#2F3133"/><circle cx="307.0" cy="604.1" r="1.2" fill="#7E8082"/>
<rect x="312.5" y="602.1" width="3.5" height="4" fill="#2A2B2D"/>
<circle cx="307.0" cy="610.3" r="2.3" fill="#2F3133"/><circle cx="307.0" cy="610.3" r="1.2" fill="#7E8082"/>
<rect x="312.5" y="608.3" width="3.5" height="4" fill="#2A2B2D"/>
<rect x="319.5" y="550.5" width="15.5" height="63.5" fill="#E4E5E6"/>
<circle cx="323.5" cy="554.5" r="2.3" fill="#2F3133"/><circle cx="323.5" cy="554.5" r="1.2" fill="#7E8082"/>
<rect x="330.0" y="552.5" width="3.5" height="4" fill="#2A2B2D"/>
<circle cx="323.5" cy="560.7" r="2.3" fill="#2F3133"/><circle cx="323.5" cy="560.7" r="1.2" fill="#7E8082"/>
<rect x="330.0" y="558.7" width="3.5" height="4" fill="#2A2B2D"/>
<circle cx="323.5" cy="566.9" r="2.3" fill="#2F3133"/><circle cx="323.5" cy="566.9" r="1.2" fill="#7E8082"/>
<rect x="330.0" y="564.9" width="3.5" height="4" fill="#2A2B2D"/>
<circle cx="323.5" cy="573.1" r="2.3" fill="#2F3133"/><circle cx="323.5" cy="573.1" r="1.2" fill="#7E8082"/>
<rect x="330.0" y="571.1" width="3.5" height="4" fill="#2A2B2D"/>
<circle cx="323.5" cy="579.3" r="2.3" fill="#2F3133"/><circle cx="323.5" cy="579.3" r="1.2" fill="#7E8082"/>
<rect x="330.0" y="577.3" width="3.5" height="4" fill="#2A2B2D"/>
<circle cx="323.5" cy="585.5" r="2.3" fill="#2F3133"/><circle cx="323.5" cy="585.5" r="1.2" fill="#7E8082"/>
<rect x="330.0" y="583.5" width="3.5" height="4" fill="#2A2B2D"/>
<circle cx="323.5" cy="591.7" r="2.3" fill="#2F3133"/><circle cx="323.5" cy="591.7" r="1.2" fill="#7E8082"/>
<rect x="330.0" y="589.7" width="3.5" height="4" fill="#2A2B2D"/>
<circle cx="323.5" cy="597.9" r="2.3" fill="#2F3133"/><circle cx="323.5" cy="597.9" r="1.2" fill="#7E8082"/>
<rect x="330.0" y="595.9" width="3.5" height="4" fill="#2A2B2D"/>
<circle cx="323.5" cy="604.1" r="2.3" fill="#2F3133"/><circle cx="323.5" cy="604.1" r="1.2" fill="#7E8082"/>
<rect x="330.0" y="602.1" width="3.5" height="4" fill="#2A2B2D"/>
<circle cx="323.5" cy="610.3" r="2.3" fill="#2F3133"/><circle cx="323.5" cy="610.3" r="1.2" fill="#7E8082"/>
<rect x="330.0" y="608.3" width="3.5" height="4" fill="#2A2B2D"/>
<rect x="336.5" y="550.5" width="15.5" height="63.5" fill="#E4E5E6"/>
<circle cx="340.5" cy="554.5" r="2.3" fill="#2F3133"/><circle cx="340.5" cy="554.5" r="1.2" fill="#7E8082"/>
<rect x="347.0" y="552.5" width="3.5" height="4" fill="#2A2B2D"/>
<circle cx="340.5" cy="560.7" r="2.3" fill="#2F3133"/><circle cx="340.5" cy="560.7" r="1.2" fill="#7E8082"/>
<rect x="347.0" y="558.7" width="3.5" height="4" fill="#2A2B2D"/>
<circle cx="340.5" cy="566.9" r="2.3" fill="#2F3133"/><circle cx="340.5" cy="566.9" r="1.2" fill="#7E8082"/>
<rect x="347.0" y="564.9" width="3.5" height="4" fill="#2A2B2D"/>
<circle cx="340.5" cy="573.1" r="2.3" fill="#2F3133"/><circle cx="340.5" cy="573.1" r="1.2" fill="#7E8082"/>
<rect x="347.0" y="571.1" width="3.5" height="4" fill="#2A2B2D"/>
<circle cx="340.5" cy="579.3" r="2.3" fill="#2F3133"/><circle cx="340.5" cy="579.3" r="1.2" fill="#7E8082"/>
<rect x="347.0" y="577.3" width="3.5" height="4" fill="#2A2B2D"/>
<circle cx="340.5" cy="585.5" r="2.3" fill="#2F3133"/><circle cx="340.5" cy="585.5" r="1.2" fill="#7E8082"/>
<rect x="347.0" y="583.5" width="3.5" height="4" fill="#2A2B2D"/>
<circle cx="340.5" cy="591.7" r="2.3" fill="#2F3133"/><circle cx="340.5" cy="591.7" r="1.2" fill="#7E8082"/>
<rect x="347.0" y="589.7" width="3.5" height="4" fill="#2A2B2D"/>
<circle cx="340.5" cy="597.9" r="2.3" fill="#2F3133"/><circle cx="340.5" cy="597.9" r="1.2" fill="#7E8082"/>
<rect x="347.0" y="595.9" width="3.5" height="4" fill="#2A2B2D"/>
<circle cx="340.5" cy="604.1" r="2.3" fill="#2F3133"/><circle cx="340.5" cy="604.1" r="1.2" fill="#7E8082"/>
<rect x="347.0" y="602.1" width="3.5" height="4" fill="#2A2B2D"/>
<circle cx="340.5" cy="610.3" r="2.3" fill="#2F3133"/><circle cx="340.5" cy="610.3" r="1.2" fill="#7E8082"/>
<rect x="347.0" y="608.3" width="3.5" height="4" fill="#2A2B2D"/>
<rect x="353.5" y="550.5" width="16.0" height="63.5" fill="#E4E5E6"/>
<circle cx="357.5" cy="554.5" r="2.3" fill="#2F3133"/><circle cx="357.5" cy="554.5" r="1.2" fill="#7E8082"/>
<rect x="364.5" y="552.5" width="3.5" height="4" fill="#2A2B2D"/>
<circle cx="357.5" cy="560.7" r="2.3" fill="#2F3133"/><circle cx="357.5" cy="560.7" r="1.2" fill="#7E8082"/>
<rect x="364.5" y="558.7" width="3.5" height="4" fill="#2A2B2D"/>
<circle cx="357.5" cy="566.9" r="2.3" fill="#2F3133"/><circle cx="357.5" cy="566.9" r="1.2" fill="#7E8082"/>
<rect x="364.5" y="564.9" width="3.5" height="4" fill="#2A2B2D"/>
<circle cx="357.5" cy="573.1" r="2.3" fill="#2F3133"/><circle cx="357.5" cy="573.1" r="1.2" fill="#7E8082"/>
<rect x="364.5" y="571.1" width="3.5" height="4" fill="#2A2B2D"/>
<circle cx="357.5" cy="579.3" r="2.3" fill="#2F3133"/><circle cx="357.5" cy="579.3" r="1.2" fill="#7E8082"/>
<rect x="364.5" y="577.3" width="3.5" height="4" fill="#2A2B2D"/>
<circle cx="357.5" cy="585.5" r="2.3" fill="#2F3133"/><circle cx="357.5" cy="585.5" r="1.2" fill="#7E8082"/>
<rect x="364.5" y="583.5" width="3.5" height="4" fill="#2A2B2D"/>
<circle cx="357.5" cy="591.7" r="2.3" fill="#2F3133"/><circle cx="357.5" cy="591.7" r="1.2" fill="#7E8082"/>
<rect x="364.5" y="589.7" width="3.5" height="4" fill="#2A2B2D"/>
<circle cx="357.5" cy="597.9" r="2.3" fill="#2F3133"/><circle cx="357.5" cy="597.9" r="1.2" fill="#7E8082"/>
<rect x="364.5" y="595.9" width="3.5" height="4" fill="#2A2B2D"/>
<circle cx="357.5" cy="604.1" r="2.3" fill="#2F3133"/><circle cx="357.5" cy="604.1" r="1.2" fill="#7E8082"/>
<rect x="364.5" y="602.1" width="3.5" height="4" fill="#2A2B2D"/>
<circle cx="357.5" cy="610.3" r="2.3" fill="#2F3133"/><circle cx="357.5" cy="610.3" r="1.2" fill="#7E8082"/>
<rect x="364.5" y="608.3" width="3.5" height="4" fill="#2A2B2D"/>
<rect x="383.4" y="550.5" width="13.0" height="63.5" fill="#E4E5E6"/>
<rect x="384.9" y="552.5" width="4" height="4" fill="#1F2022"/>
<circle cx="392.4" cy="554.5" r="1.8" fill="#6E6450"/>
<rect x="384.9" y="558.7" width="4" height="4" fill="#1F2022"/>
<circle cx="392.4" cy="560.7" r="1.8" fill="#6E6450"/>
<rect x="384.9" y="564.9" width="4" height="4" fill="#1F2022"/>
<circle cx="392.4" cy="566.9" r="1.8" fill="#6E6450"/>
<rect x="384.9" y="571.1" width="4" height="4" fill="#1F2022"/>
<circle cx="392.4" cy="573.1" r="1.8" fill="#6E6450"/>
<rect x="384.9" y="577.3" width="4" height="4" fill="#1F2022"/>
<circle cx="392.4" cy="579.3" r="1.8" fill="#6E6450"/>
<rect x="384.9" y="583.5" width="4" height="4" fill="#1F2022"/>
<circle cx="392.4" cy="585.5" r="1.8" fill="#6E6450"/>
<rect x="384.9" y="589.7" width="4" height="4" fill="#1F2022"/>
<circle cx="392.4" cy="591.7" r="1.8" fill="#6E6450"/>
<rect x="384.9" y="595.9" width="4" height="4" fill="#1F2022"/>
<circle cx="392.4" cy="597.9" r="1.8" fill="#6E6450"/>
<rect x="384.9" y="602.1" width="4" height="4" fill="#1F2022"/>
<circle cx="392.4" cy="604.1" r="1.8" fill="#6E6450"/>
<rect x="384.9" y="608.3" width="4" height="4" fill="#1F2022"/>
<circle cx="392.4" cy="610.3" r="1.8" fill="#6E6450"/>
<rect x="401" y="550.5" width="13.0" height="63.5" fill="#E4E5E6"/>
<rect x="402.5" y="552.5" width="4" height="4" fill="#1F2022"/>
<circle cx="410.0" cy="554.5" r="1.8" fill="#6E6450"/>
<rect x="402.5" y="558.7" width="4" height="4" fill="#1F2022"/>
<circle cx="410.0" cy="560.7" r="1.8" fill="#6E6450"/>
<rect x="402.5" y="564.9" width="4" height="4" fill="#1F2022"/>
<circle cx="410.0" cy="566.9" r="1.8" fill="#6E6450"/>
<rect x="402.5" y="571.1" width="4" height="4" fill="#1F2022"/>
<circle cx="410.0" cy="573.1" r="1.8" fill="#6E6450"/>
<rect x="402.5" y="577.3" width="4" height="4" fill="#1F2022"/>
<circle cx="410.0" cy="579.3" r="1.8" fill="#6E6450"/>
<rect x="402.5" y="583.5" width="4" height="4" fill="#1F2022"/>
<circle cx="410.0" cy="585.5" r="1.8" fill="#6E6450"/>
<rect x="402.5" y="589.7" width="4" height="4" fill="#1F2022"/>
<circle cx="410.0" cy="591.7" r="1.8" fill="#6E6450"/>
<rect x="402.5" y="595.9" width="4" height="4" fill="#1F2022"/>
<circle cx="410.0" cy="597.9" r="1.8" fill="#6E6450"/>
<rect x="402.5" y="602.1" width="4" height="4" fill="#1F2022"/>
<circle cx="410.0" cy="604.1" r="1.8" fill="#6E6450"/>
<rect x="402.5" y="608.3" width="4" height="4" fill="#1F2022"/>
<circle cx="410.0" cy="610.3" r="1.8" fill="#6E6450"/>
<rect x="419" y="550.5" width="13.0" height="63.5" fill="#E4E5E6"/>
<rect x="420.5" y="552.5" width="4" height="4" fill="#1F2022"/>
<circle cx="428.0" cy="554.5" r="1.8" fill="#6E6450"/>
<rect x="420.5" y="558.7" width="4" height="4" fill="#1F2022"/>
<circle cx="428.0" cy="560.7" r="1.8" fill="#6E6450"/>
<rect x="420.5" y="564.9" width="4" height="4" fill="#1F2022"/>
<circle cx="428.0" cy="566.9" r="1.8" fill="#6E6450"/>
<rect x="420.5" y="571.1" width="4" height="4" fill="#1F2022"/>
<circle cx="428.0" cy="573.1" r="1.8" fill="#6E6450"/>
<rect x="420.5" y="577.3" width="4" height="4" fill="#1F2022"/>
<circle cx="428.0" cy="579.3" r="1.8" fill="#6E6450"/>
<rect x="420.5" y="583.5" width="4" height="4" fill="#1F2022"/>
<circle cx="428.0" cy="585.5" r="1.8" fill="#6E6450"/>
<rect x="420.5" y="589.7" width="4" height="4" fill="#1F2022"/>
<circle cx="428.0" cy="591.7" r="1.8" fill="#6E6450"/>
<rect x="420.5" y="595.9" width="4" height="4" fill="#1F2022"/>
<circle cx="428.0" cy="597.9" r="1.8" fill="#6E6450"/>
<rect x="420.5" y="602.1" width="4" height="4" fill="#1F2022"/>
<circle cx="428.0" cy="604.1" r="1.8" fill="#6E6450"/>
<rect x="420.5" y="608.3" width="4" height="4" fill="#1F2022"/>
<circle cx="428.0" cy="610.3" r="1.8" fill="#6E6450"/>
<rect x="437" y="550.5" width="13.0" height="63.5" fill="#E4E5E6"/>
<rect x="438.5" y="552.5" width="4" height="4" fill="#1F2022"/>
<circle cx="446.0" cy="554.5" r="1.8" fill="#6E6450"/>
<rect x="438.5" y="558.7" width="4" height="4" fill="#1F2022"/>
<circle cx="446.0" cy="560.7" r="1.8" fill="#6E6450"/>
<rect x="438.5" y="564.9" width="4" height="4" fill="#1F2022"/>
<circle cx="446.0" cy="566.9" r="1.8" fill="#6E6450"/>
<rect x="438.5" y="571.1" width="4" height="4" fill="#1F2022"/>
<circle cx="446.0" cy="573.1" r="1.8" fill="#6E6450"/>
<rect x="438.5" y="577.3" width="4" height="4" fill="#1F2022"/>
<circle cx="446.0" cy="579.3" r="1.8" fill="#6E6450"/>
<rect x="438.5" y="583.5" width="4" height="4" fill="#1F2022"/>
<circle cx="446.0" cy="585.5" r="1.8" fill="#6E6450"/>
<rect x="438.5" y="589.7" width="4" height="4" fill="#1F2022"/>
<circle cx="446.0" cy="591.7" r="1.8" fill="#6E6450"/>
<rect x="438.5" y="595.9" width="4" height="4" fill="#1F2022"/>
<circle cx="446.0" cy="597.9" r="1.8" fill="#6E6450"/>
<rect x="438.5" y="602.1" width="4" height="4" fill="#1F2022"/>
<circle cx="446.0" cy="604.1" r="1.8" fill="#6E6450"/>
<rect x="438.5" y="608.3" width="4" height="4" fill="#1F2022"/>
<circle cx="446.0" cy="610.3" r="1.8" fill="#6E6450"/>
<rect x="464.3" y="550.5" width="14.3" height="63.5" fill="#E4E5E6"/>
<circle cx="468.3" cy="554.5" r="2.3" fill="#2F3133"/><circle cx="468.3" cy="554.5" r="1.2" fill="#7E8082"/>
<rect x="473.6" y="552.5" width="3.5" height="4" fill="#2A2B2D"/>
<circle cx="468.3" cy="560.7" r="2.3" fill="#2F3133"/><circle cx="468.3" cy="560.7" r="1.2" fill="#7E8082"/>
<rect x="473.6" y="558.7" width="3.5" height="4" fill="#2A2B2D"/>
<circle cx="468.3" cy="566.9" r="2.3" fill="#2F3133"/><circle cx="468.3" cy="566.9" r="1.2" fill="#7E8082"/>
<rect x="473.6" y="564.9" width="3.5" height="4" fill="#2A2B2D"/>
<circle cx="468.3" cy="573.1" r="2.3" fill="#2F3133"/><circle cx="468.3" cy="573.1" r="1.2" fill="#7E8082"/>
<rect x="473.6" y="571.1" width="3.5" height="4" fill="#2A2B2D"/>
<circle cx="468.3" cy="579.3" r="2.3" fill="#2F3133"/><circle cx="468.3" cy="579.3" r="1.2" fill="#7E8082"/>
<rect x="473.6" y="577.3" width="3.5" height="4" fill="#2A2B2D"/>
<circle cx="468.3" cy="585.5" r="2.3" fill="#2F3133"/><circle cx="468.3" cy="585.5" r="1.2" fill="#7E8082"/>
<rect x="473.6" y="583.5" width="3.5" height="4" fill="#2A2B2D"/>
<circle cx="468.3" cy="591.7" r="2.3" fill="#2F3133"/><circle cx="468.3" cy="591.7" r="1.2" fill="#7E8082"/>
<rect x="473.6" y="589.7" width="3.5" height="4" fill="#2A2B2D"/>
<circle cx="468.3" cy="597.9" r="2.3" fill="#2F3133"/><circle cx="468.3" cy="597.9" r="1.2" fill="#7E8082"/>
<rect x="473.6" y="595.9" width="3.5" height="4" fill="#2A2B2D"/>
<circle cx="468.3" cy="604.1" r="2.3" fill="#2F3133"/><circle cx="468.3" cy="604.1" r="1.2" fill="#7E8082"/>
<rect x="473.6" y="602.1" width="3.5" height="4" fill="#2A2B2D"/>
<circle cx="468.3" cy="610.3" r="2.3" fill="#2F3133"/><circle cx="468.3" cy="610.3" r="1.2" fill="#7E8082"/>
<rect x="473.6" y="608.3" width="3.5" height="4" fill="#2A2B2D"/>
<rect x="481" y="550.5" width="16.0" height="63.5" fill="#E4E5E6"/>
<circle cx="485.0" cy="554.5" r="2.3" fill="#2F3133"/><circle cx="485.0" cy="554.5" r="1.2" fill="#7E8082"/>
<rect x="492.0" y="552.5" width="3.5" height="4" fill="#2A2B2D"/>
<circle cx="485.0" cy="560.7" r="2.3" fill="#2F3133"/><circle cx="485.0" cy="560.7" r="1.2" fill="#7E8082"/>
<rect x="492.0" y="558.7" width="3.5" height="4" fill="#2A2B2D"/>
<circle cx="485.0" cy="566.9" r="2.3" fill="#2F3133"/><circle cx="485.0" cy="566.9" r="1.2" fill="#7E8082"/>
<rect x="492.0" y="564.9" width="3.5" height="4" fill="#2A2B2D"/>
<circle cx="485.0" cy="573.1" r="2.3" fill="#2F3133"/><circle cx="485.0" cy="573.1" r="1.2" fill="#7E8082"/>
<rect x="492.0" y="571.1" width="3.5" height="4" fill="#2A2B2D"/>
<circle cx="485.0" cy="579.3" r="2.3" fill="#2F3133"/><circle cx="485.0" cy="579.3" r="1.2" fill="#7E8082"/>
<rect x="492.0" y="577.3" width="3.5" height="4" fill="#2A2B2D"/>
<circle cx="485.0" cy="585.5" r="2.3" fill="#2F3133"/><circle cx="485.0" cy="585.5" r="1.2" fill="#7E8082"/>
<rect x="492.0" y="583.5" width="3.5" height="4" fill="#2A2B2D"/>
<circle cx="485.0" cy="591.7" r="2.3" fill="#2F3133"/><circle cx="485.0" cy="591.7" r="1.2" fill="#7E8082"/>
<rect x="492.0" y="589.7" width="3.5" height="4" fill="#2A2B2D"/>
<circle cx="485.0" cy="597.9" r="2.3" fill="#2F3133"/><circle cx="485.0" cy="597.9" r="1.2" fill="#7E8082"/>
<rect x="492.0" y="595.9" width="3.5" height="4" fill="#2A2B2D"/>
<circle cx="485.0" cy="604.1" r="2.3" fill="#2F3133"/><circle cx="485.0" cy="604.1" r="1.2" fill="#7E8082"/>
<rect x="492.0" y="602.1" width="3.5" height="4" fill="#2A2B2D"/>
<circle cx="485.0" cy="610.3" r="2.3" fill="#2F3133"/><circle cx="485.0" cy="610.3" r="1.2" fill="#7E8082"/>
<rect x="492.0" y="608.3" width="3.5" height="4" fill="#2A2B2D"/>
<rect x="499" y="550.5" width="15.4" height="63.5" fill="#E4E5E6"/>
<circle cx="503.0" cy="554.5" r="2.3" fill="#2F3133"/><circle cx="503.0" cy="554.5" r="1.2" fill="#7E8082"/>
<rect x="509.4" y="552.5" width="3.5" height="4" fill="#2A2B2D"/>
<circle cx="503.0" cy="560.7" r="2.3" fill="#2F3133"/><circle cx="503.0" cy="560.7" r="1.2" fill="#7E8082"/>
<rect x="509.4" y="558.7" width="3.5" height="4" fill="#2A2B2D"/>
<circle cx="503.0" cy="566.9" r="2.3" fill="#2F3133"/><circle cx="503.0" cy="566.9" r="1.2" fill="#7E8082"/>
<rect x="509.4" y="564.9" width="3.5" height="4" fill="#2A2B2D"/>
<circle cx="503.0" cy="573.1" r="2.3" fill="#2F3133"/><circle cx="503.0" cy="573.1" r="1.2" fill="#7E8082"/>
<rect x="509.4" y="571.1" width="3.5" height="4" fill="#2A2B2D"/>
<circle cx="503.0" cy="579.3" r="2.3" fill="#2F3133"/><circle cx="503.0" cy="579.3" r="1.2" fill="#7E8082"/>
<rect x="509.4" y="577.3" width="3.5" height="4" fill="#2A2B2D"/>
<circle cx="503.0" cy="585.5" r="2.3" fill="#2F3133"/><circle cx="503.0" cy="585.5" r="1.2" fill="#7E8082"/>
<rect x="509.4" y="583.5" width="3.5" height="4" fill="#2A2B2D"/>
<circle cx="503.0" cy="591.7" r="2.3" fill="#2F3133"/><circle cx="503.0" cy="591.7" r="1.2" fill="#7E8082"/>
<rect x="509.4" y="589.7" width="3.5" height="4" fill="#2A2B2D"/>
<circle cx="503.0" cy="597.9" r="2.3" fill="#2F3133"/><circle cx="503.0" cy="597.9" r="1.2" fill="#7E8082"/>
<rect x="509.4" y="595.9" width="3.5" height="4" fill="#2A2B2D"/>
<circle cx="503.0" cy="604.1" r="2.3" fill="#2F3133"/><circle cx="503.0" cy="604.1" r="1.2" fill="#7E8082"/>
<rect x="509.4" y="602.1" width="3.5" height="4" fill="#2A2B2D"/>
<circle cx="503.0" cy="610.3" r="2.3" fill="#2F3133"/><circle cx="503.0" cy="610.3" r="1.2" fill="#7E8082"/>
<rect x="509.4" y="608.3" width="3.5" height="4" fill="#2A2B2D"/>
<rect x="516" y="550.5" width="14.0" height="63.5" fill="#E4E5E6"/>
<circle cx="520.0" cy="554.5" r="2.3" fill="#2F3133"/><circle cx="520.0" cy="554.5" r="1.2" fill="#7E8082"/>
<rect x="525.0" y="552.5" width="3.5" height="4" fill="#2A2B2D"/>
<circle cx="520.0" cy="560.7" r="2.3" fill="#2F3133"/><circle cx="520.0" cy="560.7" r="1.2" fill="#7E8082"/>
<rect x="525.0" y="558.7" width="3.5" height="4" fill="#2A2B2D"/>
<circle cx="520.0" cy="566.9" r="2.3" fill="#2F3133"/><circle cx="520.0" cy="566.9" r="1.2" fill="#7E8082"/>
<rect x="525.0" y="564.9" width="3.5" height="4" fill="#2A2B2D"/>
<circle cx="520.0" cy="573.1" r="2.3" fill="#2F3133"/><circle cx="520.0" cy="573.1" r="1.2" fill="#7E8082"/>
<rect x="525.0" y="571.1" width="3.5" height="4" fill="#2A2B2D"/>
<circle cx="520.0" cy="579.3" r="2.3" fill="#2F3133"/><circle cx="520.0" cy="579.3" r="1.2" fill="#7E8082"/>
<rect x="525.0" y="577.3" width="3.5" height="4" fill="#2A2B2D"/>
<circle cx="520.0" cy="585.5" r="2.3" fill="#2F3133"/><circle cx="520.0" cy="585.5" r="1.2" fill="#7E8082"/>
<rect x="525.0" y="583.5" width="3.5" height="4" fill="#2A2B2D"/>
<circle cx="520.0" cy="591.7" r="2.3" fill="#2F3133"/><circle cx="520.0" cy="591.7" r="1.2" fill="#7E8082"/>
<rect x="525.0" y="589.7" width="3.5" height="4" fill="#2A2B2D"/>
<circle cx="520.0" cy="597.9" r="2.3" fill="#2F3133"/><circle cx="520.0" cy="597.9" r="1.2" fill="#7E8082"/>
<rect x="525.0" y="595.9" width="3.5" height="4" fill="#2A2B2D"/>
<circle cx="520.0" cy="604.1" r="2.3" fill="#2F3133"/><circle cx="520.0" cy="604.1" r="1.2" fill="#7E8082"/>
<rect x="525.0" y="602.1" width="3.5" height="4" fill="#2A2B2D"/>
<circle cx="520.0" cy="610.3" r="2.3" fill="#2F3133"/><circle cx="520.0" cy="610.3" r="1.2" fill="#7E8082"/>
<rect x="525.0" y="608.3" width="3.5" height="4" fill="#2A2B2D"/>
<rect x="304.7" y="471.2" width="8.5" height="0.9" fill="#9BA1A7"/>
<rect x="304.7" y="476.6" width="8.5" height="0.9" fill="#9BA1A7"/>
<rect x="304.7" y="482.0" width="8.5" height="0.9" fill="#9BA1A7"/>
<rect x="304.7" y="487.4" width="8.5" height="0.9" fill="#9BA1A7"/>
<rect x="304.7" y="492.8" width="8.5" height="0.9" fill="#9BA1A7"/>
<rect x="304.7" y="498.2" width="8.5" height="0.9" fill="#9BA1A7"/>
<rect x="304.7" y="503.6" width="8.5" height="0.9" fill="#9BA1A7"/>
<rect x="304.7" y="509.0" width="8.5" height="0.9" fill="#9BA1A7"/>
<rect x="304.7" y="514.4" width="8.5" height="0.9" fill="#9BA1A7"/>
<rect x="304.7" y="519.8" width="8.5" height="0.9" fill="#9BA1A7"/>
<rect x="322.2" y="471.2" width="8.5" height="0.9" fill="#9BA1A7"/>
<rect x="322.2" y="476.6" width="8.5" height="0.9" fill="#9BA1A7"/>
<rect x="322.2" y="482.0" width="8.5" height="0.9" fill="#9BA1A7"/>
<rect x="322.2" y="487.4" width="8.5" height="0.9" fill="#9BA1A7"/>
<rect x="322.2" y="492.8" width="8.5" height="0.9" fill="#9BA1A7"/>
<rect x="322.2" y="498.2" width="8.5" height="0.9" fill="#9BA1A7"/>
<rect x="322.2" y="503.6" width="8.5" height="0.9" fill="#9BA1A7"/>
<rect x="322.2" y="509.0" width="8.5" height="0.9" fill="#9BA1A7"/>
<rect x="322.2" y="514.4" width="8.5" height="0.9" fill="#9BA1A7"/>
<rect x="322.2" y="519.8" width="8.5" height="0.9" fill="#9BA1A7"/>
<rect x="339.8" y="471.2" width="8.5" height="0.9" fill="#9BA1A7"/>
<rect x="339.8" y="476.6" width="8.5" height="0.9" fill="#9BA1A7"/>
<rect x="339.8" y="482.0" width="8.5" height="0.9" fill="#9BA1A7"/>
<rect x="339.8" y="487.4" width="8.5" height="0.9" fill="#9BA1A7"/>
<rect x="339.8" y="492.8" width="8.5" height="0.9" fill="#9BA1A7"/>
<rect x="339.8" y="498.2" width="8.5" height="0.9" fill="#9BA1A7"/>
<rect x="339.8" y="503.6" width="8.5" height="0.9" fill="#9BA1A7"/>
<rect x="339.8" y="509.0" width="8.5" height="0.9" fill="#9BA1A7"/>
<rect x="339.8" y="514.4" width="8.5" height="0.9" fill="#9BA1A7"/>
<rect x="339.8" y="519.8" width="8.5" height="0.9" fill="#9BA1A7"/>
<rect x="357.3" y="471.2" width="8.5" height="0.9" fill="#9BA1A7"/>
<rect x="357.3" y="476.6" width="8.5" height="0.9" fill="#9BA1A7"/>
<rect x="357.3" y="482.0" width="8.5" height="0.9" fill="#9BA1A7"/>
<rect x="357.3" y="487.4" width="8.5" height="0.9" fill="#9BA1A7"/>
<rect x="357.3" y="492.8" width="8.5" height="0.9" fill="#9BA1A7"/>
<rect x="357.3" y="498.2" width="8.5" height="0.9" fill="#9BA1A7"/>
<rect x="357.3" y="503.6" width="8.5" height="0.9" fill="#9BA1A7"/>
<rect x="357.3" y="509.0" width="8.5" height="0.9" fill="#9BA1A7"/>
<rect x="357.3" y="514.4" width="8.5" height="0.9" fill="#9BA1A7"/>
<rect x="357.3" y="519.8" width="8.5" height="0.9" fill="#9BA1A7"/>
<rect x="389.0" y="471.2" width="8.5" height="0.9" fill="#9BA1A7"/>
<rect x="389.0" y="476.6" width="8.5" height="0.9" fill="#9BA1A7"/>
<rect x="389.0" y="482.0" width="8.5" height="0.9" fill="#9BA1A7"/>
<rect x="389.0" y="487.4" width="8.5" height="0.9" fill="#9BA1A7"/>
<rect x="389.0" y="492.8" width="8.5" height="0.9" fill="#9BA1A7"/>
<rect x="389.0" y="498.2" width="8.5" height="0.9" fill="#9BA1A7"/>
<rect x="389.0" y="503.6" width="8.5" height="0.9" fill="#9BA1A7"/>
<rect x="389.0" y="509.0" width="8.5" height="0.9" fill="#9BA1A7"/>
<rect x="389.0" y="514.4" width="8.5" height="0.9" fill="#9BA1A7"/>
<rect x="389.0" y="519.8" width="8.5" height="0.9" fill="#9BA1A7"/>
<rect x="406.5" y="471.2" width="8.5" height="0.9" fill="#9BA1A7"/>
<rect x="406.5" y="476.6" width="8.5" height="0.9" fill="#9BA1A7"/>
<rect x="406.5" y="482.0" width="8.5" height="0.9" fill="#9BA1A7"/>
<rect x="406.5" y="487.4" width="8.5" height="0.9" fill="#9BA1A7"/>
<rect x="406.5" y="492.8" width="8.5" height="0.9" fill="#9BA1A7"/>
<rect x="406.5" y="498.2" width="8.5" height="0.9" fill="#9BA1A7"/>
<rect x="406.5" y="503.6" width="8.5" height="0.9" fill="#9BA1A7"/>
<rect x="406.5" y="509.0" width="8.5" height="0.9" fill="#9BA1A7"/>
<rect x="406.5" y="514.4" width="8.5" height="0.9" fill="#9BA1A7"/>
<rect x="406.5" y="519.8" width="8.5" height="0.9" fill="#9BA1A7"/>
<rect x="424.0" y="471.2" width="8.5" height="0.9" fill="#9BA1A7"/>
<rect x="424.0" y="476.6" width="8.5" height="0.9" fill="#9BA1A7"/>
<rect x="424.0" y="482.0" width="8.5" height="0.9" fill="#9BA1A7"/>
<rect x="424.0" y="487.4" width="8.5" height="0.9" fill="#9BA1A7"/>
<rect x="424.0" y="492.8" width="8.5" height="0.9" fill="#9BA1A7"/>
<rect x="424.0" y="498.2" width="8.5" height="0.9" fill="#9BA1A7"/>
<rect x="424.0" y="503.6" width="8.5" height="0.9" fill="#9BA1A7"/>
<rect x="424.0" y="509.0" width="8.5" height="0.9" fill="#9BA1A7"/>
<rect x="424.0" y="514.4" width="8.5" height="0.9" fill="#9BA1A7"/>
<rect x="424.0" y="519.8" width="8.5" height="0.9" fill="#9BA1A7"/>
<rect x="441.5" y="471.2" width="8.5" height="0.9" fill="#9BA1A7"/>
<rect x="441.5" y="476.6" width="8.5" height="0.9" fill="#9BA1A7"/>
<rect x="441.5" y="482.0" width="8.5" height="0.9" fill="#9BA1A7"/>
<rect x="441.5" y="487.4" width="8.5" height="0.9" fill="#9BA1A7"/>
<rect x="441.5" y="492.8" width="8.5" height="0.9" fill="#9BA1A7"/>
<rect x="441.5" y="498.2" width="8.5" height="0.9" fill="#9BA1A7"/>
<rect x="441.5" y="503.6" width="8.5" height="0.9" fill="#9BA1A7"/>
<rect x="441.5" y="509.0" width="8.5" height="0.9" fill="#9BA1A7"/>
<rect x="441.5" y="514.4" width="8.5" height="0.9" fill="#9BA1A7"/>
<rect x="441.5" y="519.8" width="8.5" height="0.9" fill="#9BA1A7"/>
<rect x="473.7" y="471.2" width="8.5" height="0.9" fill="#9BA1A7"/>
<rect x="473.7" y="476.6" width="8.5" height="0.9" fill="#9BA1A7"/>
<rect x="473.7" y="482.0" width="8.5" height="0.9" fill="#9BA1A7"/>
<rect x="473.7" y="487.4" width="8.5" height="0.9" fill="#9BA1A7"/>
<rect x="473.7" y="492.8" width="8.5" height="0.9" fill="#9BA1A7"/>
<rect x="473.7" y="498.2" width="8.5" height="0.9" fill="#9BA1A7"/>
<rect x="473.7" y="503.6" width="8.5" height="0.9" fill="#9BA1A7"/>
<rect x="473.7" y="509.0" width="8.5" height="0.9" fill="#9BA1A7"/>
<rect x="473.7" y="514.4" width="8.5" height="0.9" fill="#9BA1A7"/>
<rect x="473.7" y="519.8" width="8.5" height="0.9" fill="#9BA1A7"/>
<rect x="491.2" y="471.2" width="8.5" height="0.9" fill="#9BA1A7"/>
<rect x="491.2" y="476.6" width="8.5" height="0.9" fill="#9BA1A7"/>
<rect x="491.2" y="482.0" width="8.5" height="0.9" fill="#9BA1A7"/>
<rect x="491.2" y="487.4" width="8.5" height="0.9" fill="#9BA1A7"/>
<rect x="491.2" y="492.8" width="8.5" height="0.9" fill="#9BA1A7"/>
<rect x="491.2" y="498.2" width="8.5" height="0.9" fill="#9BA1A7"/>
<rect x="491.2" y="503.6" width="8.5" height="0.9" fill="#9BA1A7"/>
<rect x="491.2" y="509.0" width="8.5" height="0.9" fill="#9BA1A7"/>
<rect x="491.2" y="514.4" width="8.5" height="0.9" fill="#9BA1A7"/>
<rect x="491.2" y="519.8" width="8.5" height="0.9" fill="#9BA1A7"/>
<rect x="508.7" y="471.2" width="8.5" height="0.9" fill="#9BA1A7"/>
<rect x="508.7" y="476.6" width="8.5" height="0.9" fill="#9BA1A7"/>
<rect x="508.7" y="482.0" width="8.5" height="0.9" fill="#9BA1A7"/>
<rect x="508.7" y="487.4" width="8.5" height="0.9" fill="#9BA1A7"/>
<rect x="508.7" y="492.8" width="8.5" height="0.9" fill="#9BA1A7"/>
<rect x="508.7" y="498.2" width="8.5" height="0.9" fill="#9BA1A7"/>
<rect x="508.7" y="503.6" width="8.5" height="0.9" fill="#9BA1A7"/>
<rect x="508.7" y="509.0" width="8.5" height="0.9" fill="#9BA1A7"/>
<rect x="508.7" y="514.4" width="8.5" height="0.9" fill="#9BA1A7"/>
<rect x="508.7" y="519.8" width="8.5" height="0.9" fill="#9BA1A7"/>
<rect x="526.2" y="471.2" width="8.5" height="0.9" fill="#9BA1A7"/>
<rect x="526.2" y="476.6" width="8.5" height="0.9" fill="#9BA1A7"/>
<rect x="526.2" y="482.0" width="8.5" height="0.9" fill="#9BA1A7"/>
<rect x="526.2" y="487.4" width="8.5" height="0.9" fill="#9BA1A7"/>
<rect x="526.2" y="492.8" width="8.5" height="0.9" fill="#9BA1A7"/>
<rect x="526.2" y="498.2" width="8.5" height="0.9" fill="#9BA1A7"/>
<rect x="526.2" y="503.6" width="8.5" height="0.9" fill="#9BA1A7"/>
<rect x="526.2" y="509.0" width="8.5" height="0.9" fill="#9BA1A7"/>
<rect x="526.2" y="514.4" width="8.5" height="0.9" fill="#9BA1A7"/>
<rect x="526.2" y="519.8" width="8.5" height="0.9" fill="#9BA1A7"/>
<rect x="351" y="534.5" width="8" height="1" fill="#9EA4AA"/>
<rect x="345" y="537.8" width="14" height="1" fill="#9EA4AA"/>
<rect x="345" y="541.1" width="14" height="1" fill="#9EA4AA"/>
<rect x="436" y="534.5" width="8" height="1" fill="#9EA4AA"/>
<rect x="430" y="537.8" width="14" height="1" fill="#9EA4AA"/>
<rect x="430" y="541.1" width="14" height="1" fill="#9EA4AA"/>
<rect x="520" y="534.5" width="8" height="1" fill="#9EA4AA"/>
<rect x="514" y="537.8" width="14" height="1" fill="#9EA4AA"/>
<rect x="514" y="541.1" width="14" height="1" fill="#9EA4AA"/>
</g>
<g id="pc">
<defs>
<linearGradient id="tw" x1="0" y1="0" x2="1" y2="0"><stop offset="0" stop-color="#2A2A2A"/><stop offset="0.45" stop-color="#3A3A3A"/><stop offset="0.55" stop-color="#262626"/><stop offset="1" stop-color="#2C2C2C"/></linearGradient>
<linearGradient id="neck" x1="0" y1="0" x2="1" y2="0"><stop offset="0" stop-color="#1E1E1E"/><stop offset="0.4" stop-color="#3C3C3C"/><stop offset="1" stop-color="#1A1A1A"/></linearGradient>
<linearGradient id="base" x1="0" y1="0" x2="1" y2="0"><stop offset="0" stop-color="#2E2E2E"/><stop offset="0.4" stop-color="#3E3E3E"/><stop offset="1" stop-color="#303030"/></linearGradient>
<linearGradient id="kb" x1="0" y1="0" x2="0" y2="1"><stop offset="0" stop-color="#4A4D50"/><stop offset="0.75" stop-color="#3B3E41"/><stop offset="0.8" stop-color="#C9CFD2"/><stop offset="1" stop-color="#777B7E"/></linearGradient>
<radialGradient id="ms" cx="0.45" cy="0.35" r="0.65"><stop offset="0" stop-color="#D5E0E8"/><stop offset="0.25" stop-color="#7A7F83"/><stop offset="1" stop-color="#3A3C3F"/></radialGradient>
<linearGradient id="kbs" x1="0" y1="0" x2="0" y2="1"><stop offset="0" stop-color="#DCE1E3"/><stop offset="1" stop-color="#A4AAAD"/></linearGradient>
<linearGradient id="key" x1="0" y1="0" x2="0" y2="1"><stop offset="0" stop-color="#A5A9AC"/><stop offset="0.4" stop-color="#5C5F62"/><stop offset="1" stop-color="#2E3032"/></linearGradient>
</defs>
<!-- tower -->
<rect x="656.5" y="376" width="96.5" height="213" fill="#3B3B3B" stroke="#101010" stroke-width="1.2"/>
<rect x="663" y="383.5" width="83" height="199.5" fill="url(#tw)" stroke="#8C8C8C" stroke-width="1"/>
<line x1="704.5" y1="383.5" x2="704.5" y2="583" stroke="#8C8C8C" stroke-width="1"/>
<line x1="663" y1="510.5" x2="704.5" y2="510.5" stroke="#8C8C8C" stroke-width="1"/>
<polygon points="716,384 732,384 712,582 706,582" fill="#FFFFFF" opacity="0.04"/>
<circle cx="727.5" cy="514.5" r="8" fill="#1A1A1A" stroke="#8A8A8A" stroke-width="1.3"/>
<circle cx="727.5" cy="514.5" r="3.6" fill="none" stroke="#C4401A" stroke-width="1.6"/>
<rect x="726.8" y="509.5" width="1.4" height="4" fill="#D04A1A"/>
<!-- monitor -->
<rect x="768.5" y="364" width="232.5" height="168.5" rx="2.5" fill="#464646" stroke="#2E2E2E" stroke-width="0.8"/>
<path d="M813.5 556.5 V560.5 A69.5 7.5 0 0 0 952.5 560.5 V556.5 Z" fill="#262626"/>
<ellipse cx="883" cy="556.5" rx="69.5" ry="7" fill="url(#base)"/>
<rect x="872.5" y="532.5" width="24.5" height="25" fill="url(#neck)"/>
<ellipse cx="884.8" cy="557.5" rx="12.2" ry="1.2" fill="#1E1E1E"/>
<!-- keyboard -->
<path d="M787 576.5 H990 L997.5 591 L998 596 Q998 599.5 993 599.5 H785 Q780.5 599.5 780.5 596 L781 590 Z" fill="#2A2C2E"/>
<path d="M781 591 H997.5 L998 596 Q998 598 994 598 H784 Q780.5 598 780.7 595 Z" fill="url(#kbs)"/>
<rect x="782" y="597.7" width="215" height="1.8" fill="#1C1D1F"/>
<rect x="786.0" y="577.5" width="6.6" height="3.2" rx="0.6" fill="url(#key)"/>
<rect x="793.6" y="577.5" width="6.6" height="3.2" rx="0.6" fill="url(#key)"/>
<rect x="801.2" y="577.5" width="6.6" height="3.2" rx="0.6" fill="url(#key)"/>
<rect x="808.8" y="577.5" width="6.6" height="3.2" rx="0.6" fill="url(#key)"/>
<rect x="816.4" y="577.5" width="6.6" height="3.2" rx="0.6" fill="url(#key)"/>
<rect x="824.0" y="577.5" width="6.6" height="3.2" rx="0.6" fill="url(#key)"/>
<rect x="831.6" y="577.5" width="6.6" height="3.2" rx="0.6" fill="url(#key)"/>
<rect x="839.2" y="577.5" width="6.6" height="3.2" rx="0.6" fill="url(#key)"/>
<rect x="846.8" y="577.5" width="6.6" height="3.2" rx="0.6" fill="url(#key)"/>
<rect x="854.4" y="577.5" width="6.6" height="3.2" rx="0.6" fill="url(#key)"/>
<rect x="862.0" y="577.5" width="6.6" height="3.2" rx="0.6" fill="url(#key)"/>
<rect x="869.6" y="577.5" width="6.6" height="3.2" rx="0.6" fill="url(#key)"/>
<rect x="877.2" y="577.5" width="6.6" height="3.2" rx="0.6" fill="url(#key)"/>
<rect x="884.8" y="577.5" width="6.6" height="3.2" rx="0.6" fill="url(#key)"/>
<rect x="892.4" y="577.5" width="6.6" height="3.2" rx="0.6" fill="url(#key)"/>
<rect x="900.0" y="577.5" width="6.6" height="3.2" rx="0.6" fill="url(#key)"/>
<rect x="907.6" y="577.5" width="6.6" height="3.2" rx="0.6" fill="url(#key)"/>
<rect x="915.2" y="577.5" width="4.8" height="3.2" rx="0.6" fill="url(#key)"/>
<rect x="925.5" y="577.5" width="7.1" height="3.2" rx="0.6" fill="url(#key)"/>
<rect x="933.6" y="577.5" width="7.1" height="3.2" rx="0.6" fill="url(#key)"/>
<rect x="941.7" y="577.5" width="7.1" height="3.2" rx="0.6" fill="url(#key)"/>
<rect x="958.0" y="577.5" width="7.1" height="3.2" rx="0.6" fill="url(#key)"/>
<rect x="966.1" y="577.5" width="7.1" height="3.2" rx="0.6" fill="url(#key)"/>
<rect x="974.2" y="577.5" width="7.1" height="3.2" rx="0.6" fill="url(#key)"/>
<rect x="982.3" y="577.5" width="7.1" height="3.2" rx="0.6" fill="url(#key)"/>
<rect x="784.8" y="581" width="6.6" height="3.2" rx="0.6" fill="url(#key)"/>
<rect x="792.4" y="581" width="6.6" height="3.2" rx="0.6" fill="url(#key)"/>
<rect x="800.0" y="581" width="6.6" height="3.2" rx="0.6" fill="url(#key)"/>
<rect x="807.6" y="581" width="6.6" height="3.2" rx="0.6" fill="url(#key)"/>
<rect x="815.2" y="581" width="6.6" height="3.2" rx="0.6" fill="url(#key)"/>
<rect x="822.8" y="581" width="6.6" height="3.2" rx="0.6" fill="url(#key)"/>
<rect x="830.4" y="581" width="6.6" height="3.2" rx="0.6" fill="url(#key)"/>
<rect x="838.0" y="581" width="6.6" height="3.2" rx="0.6" fill="url(#key)"/>
<rect x="845.6" y="581" width="6.6" height="3.2" rx="0.6" fill="url(#key)"/>
<rect x="853.2" y="581" width="6.6" height="3.2" rx="0.6" fill="url(#key)"/>
<rect x="860.8" y="581" width="6.6" height="3.2" rx="0.6" fill="url(#key)"/>
<rect x="868.4" y="581" width="6.6" height="3.2" rx="0.6" fill="url(#key)"/>
<rect x="876.0" y="581" width="6.6" height="3.2" rx="0.6" fill="url(#key)"/>
<rect x="883.6" y="581" width="6.6" height="3.2" rx="0.6" fill="url(#key)"/>
<rect x="891.2" y="581" width="6.6" height="3.2" rx="0.6" fill="url(#key)"/>
<rect x="898.8" y="581" width="6.6" height="3.2" rx="0.6" fill="url(#key)"/>
<rect x="906.4" y="581" width="6.6" height="3.2" rx="0.6" fill="url(#key)"/>
<rect x="914.0" y="581" width="6.5" height="3.2" rx="0.6" fill="url(#key)"/>
<rect x="926.0" y="581" width="7.1" height="3.2" rx="0.6" fill="url(#key)"/>
<rect x="934.1" y="581" width="7.1" height="3.2" rx="0.6" fill="url(#key)"/>
<rect x="942.2" y="581" width="7.1" height="3.2" rx="0.6" fill="url(#key)"/>
<rect x="958.8" y="581" width="7.1" height="3.2" rx="0.6" fill="url(#key)"/>
<rect x="966.9" y="581" width="7.1" height="3.2" rx="0.6" fill="url(#key)"/>
<rect x="975.0" y="581" width="7.1" height="3.2" rx="0.6" fill="url(#key)"/>
<rect x="983.1" y="581" width="7.1" height="3.2" rx="0.6" fill="url(#key)"/>
<rect x="783.6" y="584.5" width="6.6" height="3.2" rx="0.6" fill="url(#key)"/>
<rect x="791.2" y="584.5" width="6.6" height="3.2" rx="0.6" fill="url(#key)"/>
<rect x="798.8" y="584.5" width="6.6" height="3.2" rx="0.6" fill="url(#key)"/>
<rect x="806.4" y="584.5" width="6.6" height="3.2" rx="0.6" fill="url(#key)"/>
<rect x="814.0" y="584.5" width="6.6" height="3.2" rx="0.6" fill="url(#key)"/>
<rect x="821.6" y="584.5" width="6.6" height="3.2" rx="0.6" fill="url(#key)"/>
<rect x="829.2" y="584.5" width="6.6" height="3.2" rx="0.6" fill="url(#key)"/>
<rect x="836.8" y="584.5" width="6.6" height="3.2" rx="0.6" fill="url(#key)"/>
<rect x="844.4" y="584.5" width="6.6" height="3.2" rx="0.6" fill="url(#key)"/>
<rect x="852.0" y="584.5" width="6.6" height="3.2" rx="0.6" fill="url(#key)"/>
<rect x="859.6" y="584.5" width="6.6" height="3.2" rx="0.6" fill="url(#key)"/>
<rect x="867.2" y="584.5" width="6.6" height="3.2" rx="0.6" fill="url(#key)"/>
<rect x="874.8" y="584.5" width="6.6" height="3.2" rx="0.6" fill="url(#key)"/>
<rect x="882.4" y="584.5" width="6.6" height="3.2" rx="0.6" fill="url(#key)"/>
<rect x="890.0" y="584.5" width="6.6" height="3.2" rx="0.6" fill="url(#key)"/>
<rect x="897.6" y="584.5" width="6.6" height="3.2" rx="0.6" fill="url(#key)"/>
<rect x="905.2" y="584.5" width="6.6" height="3.2" rx="0.6" fill="url(#key)"/>
<rect x="912.8" y="584.5" width="6.6" height="3.2" rx="0.6" fill="url(#key)"/>
<rect x="926.5" y="584.5" width="7.1" height="3.2" rx="0.6" fill="url(#key)"/>
<rect x="934.6" y="584.5" width="7.1" height="3.2" rx="0.6" fill="url(#key)"/>
<rect x="942.7" y="584.5" width="7.1" height="3.2" rx="0.6" fill="url(#key)"/>
<rect x="959.6" y="584.5" width="7.1" height="3.2" rx="0.6" fill="url(#key)"/>
<rect x="967.7" y="584.5" width="7.1" height="3.2" rx="0.6" fill="url(#key)"/>
<rect x="975.8" y="584.5" width="7.1" height="3.2" rx="0.6" fill="url(#key)"/>
<rect x="983.9" y="584.5" width="7.1" height="3.2" rx="0.6" fill="url(#key)"/>
<rect x="782.4" y="588" width="6.6" height="3" rx="0.6" fill="url(#key)"/>
<rect x="790.0" y="588" width="6.6" height="3" rx="0.6" fill="url(#key)"/>
<rect x="797.6" y="588" width="6.6" height="3" rx="0.6" fill="url(#key)"/>
<rect x="805.2" y="588" width="6.6" height="3" rx="0.6" fill="url(#key)"/>
<rect x="812.8" y="588" width="6.6" height="3" rx="0.6" fill="url(#key)"/>
<rect x="820.4" y="588" width="6.6" height="3" rx="0.6" fill="url(#key)"/>
<rect x="828.0" y="588" width="6.6" height="3" rx="0.6" fill="url(#key)"/>
<rect x="835.6" y="588" width="51.0" height="3" rx="0.6" fill="url(#key)"/>
<rect x="887.6" y="588" width="6.6" height="3" rx="0.6" fill="url(#key)"/>
<rect x="895.2" y="588" width="6.6" height="3" rx="0.6" fill="url(#key)"/>
<rect x="902.8" y="588" width="6.6" height="3" rx="0.6" fill="url(#key)"/>
<rect x="910.4" y="588" width="6.6" height="3" rx="0.6" fill="url(#key)"/>
<rect x="918.0" y="588" width="3.5" height="3" rx="0.6" fill="url(#key)"/>
<rect x="927.0" y="588" width="7.1" height="3" rx="0.6" fill="url(#key)"/>
<rect x="935.1" y="588" width="7.1" height="3" rx="0.6" fill="url(#key)"/>
<rect x="943.2" y="588" width="7.1" height="3" rx="0.6" fill="url(#key)"/>
<rect x="960.4" y="588" width="7.1" height="3" rx="0.6" fill="url(#key)"/>
<rect x="968.5" y="588" width="7.1" height="3" rx="0.6" fill="url(#key)"/>
<rect x="976.6" y="588" width="7.1" height="3" rx="0.6" fill="url(#key)"/>
<rect x="984.7" y="588" width="7.1" height="3" rx="0.6" fill="url(#key)"/>
<rect x="992" y="581" width="5" height="6" fill="#D5DADC"/>
<!-- mouse -->
<path d="M1015.5 593.5 Q1017 579 1031 578.5 Q1045.5 579 1046 591 Q1046.5 597.5 1036 597.8 L1022 597.5 Q1015.5 597 1015.5 593.5 Z" fill="url(#ms)"/>
<path d="M1015.8 593 Q1017 586 1023 584 L1026 597.5 L1021 597.3 Q1015.8 596.5 1015.8 593 Z" fill="#DDE1E3"/>
</g>

<g id="screen">
<defs><linearGradient id="ttl" x1="0" y1="0" x2="0" y2="1"><stop offset="0" stop-color="#2A7AF0"/><stop offset="0.5" stop-color="#0A5EE6"/><stop offset="1" stop-color="#0850C8"/></linearGradient></defs>
<rect x="779.5" y="377" width="208.5" height="144.3" fill="#ECE9D8"/>
<rect x="779.5" y="376.8" width="208.5" height="5" fill="url(#ttl)"/>
<rect x="779.5" y="377.5" width="2.5" height="2.5" fill="#D84020"/><rect x="783" y="378.3" width="50" height="1.3" fill="#C9DAF5" opacity="0.75"/>
<rect x="981" y="377.5" width="6" height="3.8" fill="#D0502A"/>
<rect x="968" y="377.5" width="12" height="3.8" fill="#6FA0E8"/>
<rect x="987.2" y="377" width="1" height="144" fill="#1454C8"/>
<rect x="779.3" y="377" width="0.8" height="144" fill="#1454C8"/>
<g fill="#6A6A6A">
<rect x="783" y="383" width="4" height="1.3"/>
<rect x="790" y="383" width="5" height="1.3"/>
<rect x="797" y="383" width="8" height="1.3"/>
<rect x="808" y="383" width="8" height="1.3"/>
<rect x="819" y="383" width="7" height="1.3"/>
<rect x="838" y="383" width="7" height="1.3"/>
<rect x="848" y="383" width="5" height="1.3"/>
</g>
<rect x="827.8" y="381.8" width="8.5" height="3.5" fill="#3168D5"/>
<rect x="781" y="386.5" width="40" height="5" fill="#D6D3C6"/>
<rect x="783" y="387" width="8" height="3.8" fill="#9A9A80"/><rect x="793" y="387" width="24" height="3.8" fill="#8A7A70"/>
<rect x="797" y="387.5" width="3" height="3" fill="#D02020"/>
<rect x="779.5" y="391.5" width="208.5" height="0.8" fill="#A0A0A0"/>
<rect x="780" y="392.8" width="38" height="121.5" fill="#FFFFFF" stroke="#8E8E8E" stroke-width="0.6"/>
<rect x="783" y="395.00" width="2.2" height="2.2" fill="#4A6FA0"/>
<rect x="786" y="395.50" width="26" height="1" fill="#5A5A5A"/>
<rect x="784" y="398.05" width="2.2" height="2.2" fill="#D8B030"/>
<rect x="787" y="398.55" width="25" height="1" fill="#5A5A5A"/>
<rect x="787" y="401.10" width="2.2" height="2.2" fill="#1F5E98"/>
<rect x="790" y="401.60" width="22" height="1" fill="#5A5A5A"/>
<rect x="787" y="404.15" width="2.2" height="2.2" fill="#1F5E98"/>
<rect x="790" y="404.65" width="22" height="1" fill="#5A5A5A"/>
<rect x="784" y="407.20" width="2.2" height="2.2" fill="#D8B030"/>
<rect x="787" y="407.70" width="25" height="1" fill="#5A5A5A"/>
<rect x="784" y="410.25" width="2.2" height="2.2" fill="#D8B030"/>
<rect x="787" y="410.75" width="25" height="1" fill="#5A5A5A"/>
<rect x="784" y="413.30" width="2.2" height="2.2" fill="#D8B030"/>
<rect x="787" y="413.80" width="25" height="1" fill="#5A5A5A"/>
<rect x="784" y="416.35" width="2.2" height="2.2" fill="#D8B030"/>
<rect x="787" y="416.85" width="25" height="1" fill="#5A5A5A"/>
<rect x="784" y="419.40" width="2.2" height="2.2" fill="#D8B030"/>
<rect x="787" y="419.90" width="25" height="1" fill="#5A5A5A"/>
<rect x="784" y="422.45" width="2.2" height="2.2" fill="#D8B030"/>
<rect x="787" y="422.95" width="25" height="1" fill="#5A5A5A"/>
<rect x="784" y="425.50" width="2.2" height="2.2" fill="#D8B030"/>
<rect x="787" y="426.00" width="25" height="1" fill="#5A5A5A"/>
<rect x="784" y="428.55" width="2.2" height="2.2" fill="#D8B030"/>
<rect x="787" y="429.05" width="25" height="1" fill="#5A5A5A"/>
<rect x="784" y="431.60" width="2.2" height="2.2" fill="#B8A040"/>
<rect x="787" y="432.10" width="25" height="1" fill="#5A5A5A"/>
<rect x="787" y="434.65" width="2.2" height="2.2" fill="#3070C0"/>
<rect x="790" y="435.15" width="22" height="1" fill="#5A5A5A"/>
<rect x="787" y="437.70" width="2.2" height="2.2" fill="#40A0E0"/>
<rect x="790" y="438.20" width="22" height="1" fill="#5A5A5A"/>
<rect x="787" y="440.75" width="2.2" height="2.2" fill="#3070C0"/>
<rect x="790" y="441.25" width="22" height="1" fill="#5A5A5A"/>
<rect x="784" y="443.80" width="2.2" height="2.2" fill="#C03030"/>
<rect x="787" y="444.30" width="25" height="1" fill="#5A5A5A"/>
<rect x="784" y="446.85" width="2.2" height="2.2" fill="#3060A0"/>
<rect x="787" y="447.35" width="20" height="1" fill="#5A5A5A"/>
<rect x="784" y="449.90" width="2.2" height="2.2" fill="#7090A0"/>
<rect x="787" y="450.40" width="20" height="1" fill="#5A5A5A"/>
<rect x="784" y="452.95" width="2.2" height="2.2" fill="#506070"/>
<rect x="787" y="453.45" width="20" height="1" fill="#5A5A5A"/>
<rect x="784" y="456.00" width="2.2" height="2.2" fill="#508050"/>
<rect x="787" y="456.50" width="20" height="1" fill="#5A5A5A"/>
<rect x="784" y="459.05" width="2.2" height="2.2" fill="#507090"/>
<rect x="787" y="459.55" width="20" height="1" fill="#5A5A5A"/>
<rect x="784" y="462.10" width="2.2" height="2.2" fill="#606060"/>
<rect x="787" y="462.60" width="20" height="1" fill="#5A5A5A"/>
<rect x="784" y="465.15" width="2.2" height="2.2" fill="#7080A0"/>
<rect x="787" y="465.65" width="20" height="1" fill="#5A5A5A"/>
<rect x="784" y="468.20" width="2.2" height="2.2" fill="#909050"/>
<rect x="787" y="468.70" width="20" height="1" fill="#5A5A5A"/>
<rect x="784" y="471.25" width="2.2" height="2.2" fill="#406090"/>
<rect x="787" y="471.75" width="20" height="1" fill="#5A5A5A"/>
<rect x="784" y="474.30" width="2.2" height="2.2" fill="#808080"/>
<rect x="787" y="474.80" width="20" height="1" fill="#5A5A5A"/>
<rect x="787" y="436.2" width="17" height="3" fill="#316AC5"/>
<rect x="781" y="510" width="36" height="3.5" fill="#D8D8D8"/>
<rect x="819.3" y="392.8" width="46.5" height="106" fill="#FFFFFF" stroke="#8E8E8E" stroke-width="0.6"/>
<rect x="819.8" y="497" width="46" height="2" fill="#A8C8F0"/>
<rect x="866.5" y="392.5" width="120" height="107" fill="#F0EDDF" stroke="#A7A594" stroke-width="0.5"/>
<rect x="868" y="495" width="118" height="0.8" fill="#8C8A7E"/>
<rect x="887.5" y="409.5" width="27" height="0.9" fill="#505050"/>
<rect x="887.5" y="414" width="25" height="1.1" fill="#B8B8B0"/>
<rect x="887.5" y="418.5" width="25" height="0.9" fill="#505050"/>
<path d="M927 410.0 l0.8 1 l1.4 -1.8" stroke="#303030" stroke-width="0.6" fill="none"/>
<path d="M927 414.5 l0.8 1 l1.4 -1.8" stroke="#303030" stroke-width="0.6" fill="none"/>
<path d="M927 419.0 l0.8 1 l1.4 -1.8" stroke="#303030" stroke-width="0.6" fill="none"/>
<rect x="780" y="501.5" width="207" height="13.3" fill="#FFFFFF" stroke="#8E8E8E" stroke-width="0.5"/>
<rect x="781" y="512.5" width="30" height="1.5" fill="#B8D0F0"/>
<rect x="780" y="516.3" width="45" height="1" fill="#5A5A5A"/>
<rect x="965" y="516.3" width="20" height="1.1" fill="#A0A0A0"/>
<rect x="828" y="386" width="59.5" height="95.8" fill="#FFFFFF" stroke="#8F8F8F" stroke-width="0.6"/>
<rect x="887.5" y="387" width="1" height="95" fill="#9A9A9A" opacity="0.6"/>
<rect x="831" y="388.5" width="16" height="1" fill="#505050"/>
<rect x="861" y="388.5" width="9" height="1" fill="#505050"/>
<rect x="831" y="391.5" width="16" height="1" fill="#B0B0B0"/>
<rect x="861" y="391.5" width="9" height="1" fill="#B0B0B0"/>
<rect x="831" y="397" width="20" height="1" fill="#C0C0C0"/>
<rect x="831" y="400" width="16" height="1" fill="#C0C0C0"/>
<rect x="861" y="400" width="9" height="1" fill="#C0C0C0"/>
<rect x="831" y="403.5" width="16" height="1" fill="#C0C0C0"/>
<rect x="861" y="403.5" width="9" height="1" fill="#C0C0C0"/>
<rect x="831" y="406.5" width="20" height="1" fill="#C0C0C0"/>
<rect x="831" y="410" width="20" height="1" fill="#C0C0C0"/>
<rect x="831" y="413" width="20" height="1" fill="#C0C0C0"/>
<rect x="831" y="418" width="16" height="1" fill="#C0C0C0"/>
<rect x="861" y="418" width="9" height="1" fill="#C0C0C0"/>
<rect x="831" y="421.5" width="20" height="1" fill="#C0C0C0"/>
<rect x="831" y="425" width="16" height="1" fill="#C0C0C0"/>
<rect x="861" y="425" width="9" height="1" fill="#C0C0C0"/>
<rect x="831" y="428.5" width="16" height="1" fill="#C0C0C0"/>
<rect x="861" y="428.5" width="9" height="1" fill="#C0C0C0"/>
<rect x="831" y="432" width="16" height="1" fill="#C0C0C0"/>
<rect x="861" y="432" width="9" height="1" fill="#C0C0C0"/>
<rect x="831" y="436.5" width="16" height="1" fill="#C0C0C0"/>
<rect x="861" y="436.5" width="9" height="1" fill="#C0C0C0"/>
<rect x="831" y="440" width="16" height="1" fill="#C0C0C0"/>
<rect x="861" y="440" width="9" height="1" fill="#C0C0C0"/>
<rect x="831" y="443.5" width="16" height="1" fill="#C0C0C0"/>
<rect x="861" y="443.5" width="9" height="1" fill="#C0C0C0"/>
<rect x="831" y="447" width="16" height="1" fill="#C0C0C0"/>
<rect x="861" y="447" width="9" height="1" fill="#C0C0C0"/>
<rect x="831" y="451.5" width="20" height="1" fill="#C0C0C0"/>
<rect x="831" y="455" width="20" height="1" fill="#C0C0C0"/>
<rect x="831" y="459.5" width="20" height="1" fill="#606060"/>
<rect x="831" y="467.5" width="20" height="1" fill="#C0C0C0"/>
<rect x="831" y="472" width="20" height="1" fill="#606060"/>
<rect x="831" y="475.5" width="20" height="1" fill="#C0C0C0"/>
<rect x="831" y="479" width="20" height="1" fill="#C0C0C0"/>
<rect x="829" y="394.5" width="57.5" height="0.6" fill="#D6D6D6"/>
<rect x="829" y="416" width="57.5" height="0.6" fill="#D6D6D6"/>
<rect x="829" y="434.5" width="57.5" height="0.6" fill="#D6D6D6"/>
<rect x="829" y="449.5" width="57.5" height="0.6" fill="#D6D6D6"/>
<rect x="829" y="457.5" width="57.5" height="0.6" fill="#D6D6D6"/>
<rect x="829" y="465.5" width="57.5" height="0.6" fill="#D6D6D6"/>
<rect x="829" y="470" width="57.5" height="0.6" fill="#D6D6D6"/>
<rect x="828.6" y="463" width="58.5" height="3" fill="#316AC5"/>
</g>
<g id="gw1">
<polygon points="37.3,68 83,41 180,55 180,112 150,125 39,104" fill="#383839"/>
<defs><linearGradient id="g1top" x1="0" y1="0" x2="1" y2="1"><stop offset="0" stop-color="#3A3A3C"/><stop offset="1" stop-color="#444446"/></linearGradient></defs>
<polygon points="37.3,69 83,41 180,55 150,85.5" fill="#3C3C3F"/>
<line x1="44.0" y1="66.0" x2="68.0" y2="69.8" stroke="#232325" stroke-width="1.5"/>
<line x1="48.6" y1="63.1" x2="72.6" y2="66.9" stroke="#232325" stroke-width="1.5"/>
<line x1="53.2" y1="60.2" x2="77.2" y2="64.0" stroke="#232325" stroke-width="1.5"/>
<line x1="57.9" y1="57.4" x2="81.9" y2="61.2" stroke="#232325" stroke-width="1.5"/>
<line x1="62.5" y1="54.5" x2="86.5" y2="58.3" stroke="#232325" stroke-width="1.5"/>
<line x1="67.1" y1="51.6" x2="91.1" y2="55.4" stroke="#232325" stroke-width="1.5"/>
<line x1="71.8" y1="48.8" x2="95.8" y2="52.5" stroke="#232325" stroke-width="1.5"/>
<line x1="76.4" y1="45.9" x2="100.4" y2="49.7" stroke="#232325" stroke-width="1.5"/>
<line x1="130.0" y1="59.0" x2="152.0" y2="56.0" stroke="#242426" stroke-width="1.4"/>
<line x1="132.5" y1="61.5" x2="155.1" y2="59.0" stroke="#242426" stroke-width="1.4"/>
<line x1="135.0" y1="64.0" x2="158.2" y2="62.0" stroke="#242426" stroke-width="1.4"/>
<line x1="137.5" y1="66.5" x2="161.4" y2="65.0" stroke="#242426" stroke-width="1.4"/>
<line x1="140.0" y1="69.0" x2="164.5" y2="68.0" stroke="#242426" stroke-width="1.4"/>
<line x1="142.5" y1="71.5" x2="167.6" y2="71.0" stroke="#242426" stroke-width="1.4"/>
<line x1="145.0" y1="74.0" x2="170.8" y2="74.0" stroke="#242426" stroke-width="1.4"/>
<line x1="147.5" y1="76.5" x2="173.9" y2="77.0" stroke="#242426" stroke-width="1.4"/>
<polygon points="99,51 135,57 125,63.5 89,57" fill="#333336" stroke="#2A2A2C" stroke-width="0.8"/>
<line x1="85" y1="59" x2="103" y2="48" stroke="#6A6A6E" stroke-width="0.8"/>
<path d="M90 68.5 L110 70.5" stroke="#D8D8D8" stroke-width="1.5"/>
<polygon points="37.3,68 150,84.5 150,87 37.3,70.5" fill="#C47A26"/>
<polygon points="37.3,70.5 150,87 150,125 39,104" fill="#414143"/>
<polygon points="37.3,70.5 150,87 150,91 37.3,74.5" fill="#505052"/>
<polygon points="39,100 150,121 150,125 39,104" fill="#2C2C2E"/>
<polygon points="150,85 180,55 180,112 150,125" fill="#2F2F31"/>
<line x1="153" y1="82.0" x2="177" y2="67.0" stroke="#1E1E20" stroke-width="1.3"/>
<line x1="153" y1="86.8" x2="177" y2="72.0" stroke="#1E1E20" stroke-width="1.3"/>
<line x1="153" y1="91.6" x2="177" y2="77.0" stroke="#1E1E20" stroke-width="1.3"/>
<line x1="153" y1="96.4" x2="177" y2="82.0" stroke="#1E1E20" stroke-width="1.3"/>
<line x1="153" y1="101.2" x2="177" y2="87.0" stroke="#1E1E20" stroke-width="1.3"/>
<line x1="153" y1="106.0" x2="177" y2="92.0" stroke="#1E1E20" stroke-width="1.3"/>
<line x1="153" y1="110.8" x2="177" y2="97.0" stroke="#1E1E20" stroke-width="1.3"/>
<line x1="153" y1="115.6" x2="177" y2="102.0" stroke="#1E1E20" stroke-width="1.3"/>
<rect x="150" y="85" width="1.3" height="40" fill="#C47A26"/>
<rect x="181" y="67" width="3" height="13" fill="#C8861E"/>
<polygon points="45,74 72,78 72,90 45,86" fill="#3E3E40" stroke="#5A5A5C" stroke-width="0.5"/>
<polygon points="43,95 68,99 68,106.5 43,102" fill="#111112"/>
<rect x="45.5" y="97.3" width="2.2" height="3" fill="#E02020"/>
<rect x="49.2" y="98.0" width="2.2" height="3" fill="#40D040"/>
<rect x="52.9" y="98.6" width="2.2" height="3" fill="#40D040"/>
<rect x="56.6" y="99.2" width="2.2" height="3" fill="#E8E030"/>
<rect x="60.3" y="99.9" width="2.2" height="3" fill="#E8E030"/>
<rect x="64.0" y="100.5" width="2.2" height="3" fill="#E8E030"/>
<polyline points="43,93 68,97" stroke="#8A8A8A" stroke-width="0.6" fill="none"/>
<circle cx="89" cy="92" r="6" fill="#B3AE9E"/><circle cx="89" cy="92" r="4.3" fill="#767A75"/><circle cx="88.5" cy="92.3" r="2" fill="#5A5D5A"/>
<circle cx="89" cy="104.5" r="6" fill="#B3AE9E"/><circle cx="89" cy="104.5" r="4.3" fill="#767A75"/><circle cx="88.5" cy="104.8" r="2" fill="#5A5D5A"/>
<polygon points="98,96 116,99 116,113 98,110" fill="#2A2A2C" stroke="#9A9A9A" stroke-width="0.8"/>
<rect x="99.5" y="107.5" width="4" height="2" fill="#50D040"/>
<rect x="110" y="109.5" width="4" height="2" fill="#E8E040"/>
<polygon points="120,100 138,103 138,117 120,114" fill="#2A2A2C" stroke="#9A9A9A" stroke-width="0.8"/>
<rect x="121.5" y="111.5" width="4" height="2" fill="#50D040"/>
<rect x="132" y="113.5" width="4" height="2" fill="#E8E040"/>
</g>
<g id="gw2">
<polygon points="190,167 338,167 338,228 318,247 178,230 180,183" fill="#3A3A3C"/>
<polygon points="190,167 338,167 338,173 318,199 180,183" fill="#3D3C41"/>
<polygon points="300,171 336,167 337,169 301,173.5" fill="#232326"/>
<polygon points="292,176 334,172 335,174 293,178.5" fill="#232326"/>
<polygon points="284,181 332,177 333,179 285,183.5" fill="#232326"/>
<polygon points="276,186 330,182 331,184 277,188.5" fill="#232326"/>
<polygon points="268,191 328,187 329,189 269,193.5" fill="#232326"/>
<polygon points="260,196 326,192 327,194 261,198.5" fill="#232326"/>
<path d="M216 168.5 L232 172 M228 168 L236 174" stroke="#E0E0E0" stroke-width="1.6"/>
<polygon points="193,169.5 318,196 318,198.5 193,171.5" fill="#C98128"/>
<polygon points="180,183 318,199 318,205 180,189" fill="#4C4C4E"/>
<polygon points="180,189 318,205 318,247 178,230" fill="#444446"/>
<polygon points="178,225 318,242 318,247 178,230" fill="#2C2C2E"/>
<rect x="317" y="199" width="2" height="48" fill="#C98128"/>
<polygon points="319,199 338,173 338,228 319,247" fill="#303032"/>
<line x1="321" y1="208" x2="336" y2="196" stroke="#1F1F21" stroke-width="1.6"/>
<line x1="321" y1="215" x2="336" y2="203" stroke="#1F1F21" stroke-width="1.6"/>
<line x1="321" y1="222" x2="336" y2="210" stroke="#1F1F21" stroke-width="1.6"/>
<line x1="321" y1="229" x2="336" y2="217" stroke="#1F1F21" stroke-width="1.6"/>
<line x1="321" y1="236" x2="336" y2="224" stroke="#1F1F21" stroke-width="1.6"/>
<polygon points="181,190 195,192 195,204 181,202" fill="#3F3F41" stroke="#5C5C5E" stroke-width="0.5"/>
<rect x="178" y="211" width="9" height="18" fill="#121213"/>
<rect x="180.5" y="215.5" width="3.5" height="5" fill="#E8E030"/>
<rect x="178" y="207" width="8" height="3" fill="none" stroke="#8A8A8A" stroke-width="0.5"/>
<circle cx="219.5" cy="204.3" r="9.5" fill="#C4BEA9"/><circle cx="219.5" cy="204.3" r="7" fill="#767A76"/><circle cx="218.5" cy="204.8" r="3.2" fill="#5C605C"/><circle cx="216.5" cy="202.3" r="1.5" fill="#A8ABA6"/>
<circle cx="219.5" cy="225.7" r="9.5" fill="#C4BEA9"/><circle cx="219.5" cy="225.7" r="7" fill="#767A76"/><circle cx="218.5" cy="226.2" r="3.2" fill="#5C605C"/><circle cx="216.5" cy="223.7" r="1.5" fill="#A8ABA6"/>
<polyline points="232,205 300,213 300,218" fill="none" stroke="#A0A0A0" stroke-width="0.8"/>
<polyline points="265,214 297,218.5 297,223" fill="none" stroke="#A0A0A0" stroke-width="0.8"/>
<polygon points="234,210 262,213 262,239 234,236" fill="#262628" stroke="#B4B4B4" stroke-width="1"/>
<rect x="236" y="231" width="6" height="3" fill="#58D048"/>
<rect x="254" y="234" width="6" height="3" fill="#E8E040"/>
<polygon points="266.5,218 296.0,221 296.0,248 266.5,245" fill="#262628" stroke="#B4B4B4" stroke-width="1"/>
<rect x="268.5" y="240" width="6" height="3" fill="#58D048"/>
<rect x="288.0" y="243" width="6" height="3" fill="#E8E040"/>
<polygon points="190.8,165.3 338.4,165.6 342,169.7 342,230 311.9,252.2 173,249.3 179,177.8" fill="none" stroke="#2A86C8" stroke-width="1.4"/>
<polygon points="192.5,167.5 337,167.5 339.5,171 339.5,228.5 310.5,249.5 176,246.5 181,179.5" fill="none" stroke="#3A8DC8" stroke-width="1" opacity="0.9"/>
</g>
<line x1="144" y1="125.8" x2="186" y2="165.9" stroke="#3E8BC0" stroke-width="1.2" stroke-dasharray="3 3"/>
<path d="M253.5 223.5 V77.5 H522" fill="none" stroke="#C00000" stroke-width="5"/>
<rect x="279" y="233.5" width="5" height="328" fill="#C00000"/>
</svg>
<div class="t" style="left:289px;top:50px;font-size:19px;color:#262626;">有线<span style="margin:0 3.5px 0 1.5px">/</span>无线方式接入互联网</div>
<div class="t" style="left:13.5px;top:191.7px;font-size:19.2px;color:#262626;">HINET智能网关</div>
<div class="t" style="left:104px;top:336.5px;font-size:18px;letter-spacing:0.85px;color:#262626;">以太网方式连接PLC</div>
<div class="t" style="left:550px;top:122px;font-size:19px;letter-spacing:1px;font-weight:500;color:#262626;-webkit-text-stroke:0.5px #262626;font-family:'Liberation Serif',serif;">路由器</div>
<div class="t" style="left:269px;top:640px;font-size:19.5px;font-weight:500;color:#943634;-webkit-text-stroke:0.5px #943634;font-family:'Liberation Serif',serif;">现场设备端</div>
<div class="t" style="left:266px;top:660px;font-size:19px;font-weight:bold;color:#262626;">AC 500PLC</div>
<div class="t" style="left:805px;top:640px;font-size:19.6px;font-weight:500;color:#A33333;-webkit-text-stroke:0.5px #A33333;font-family:'Liberation Serif',serif;">远程监控端</div>
<div class="t" style="left:724px;top:665.5px;font-size:19.8px;font-weight:500;color:#262626;-webkit-text-stroke:0.5px #262626;font-family:'Liberation Serif',serif;">远程编程调试，远程组态等等</div>
<div class="t" style="left:797.5px;top:65px;font-size:19.4px;color:#111;">Internet</div>
</body></html>
